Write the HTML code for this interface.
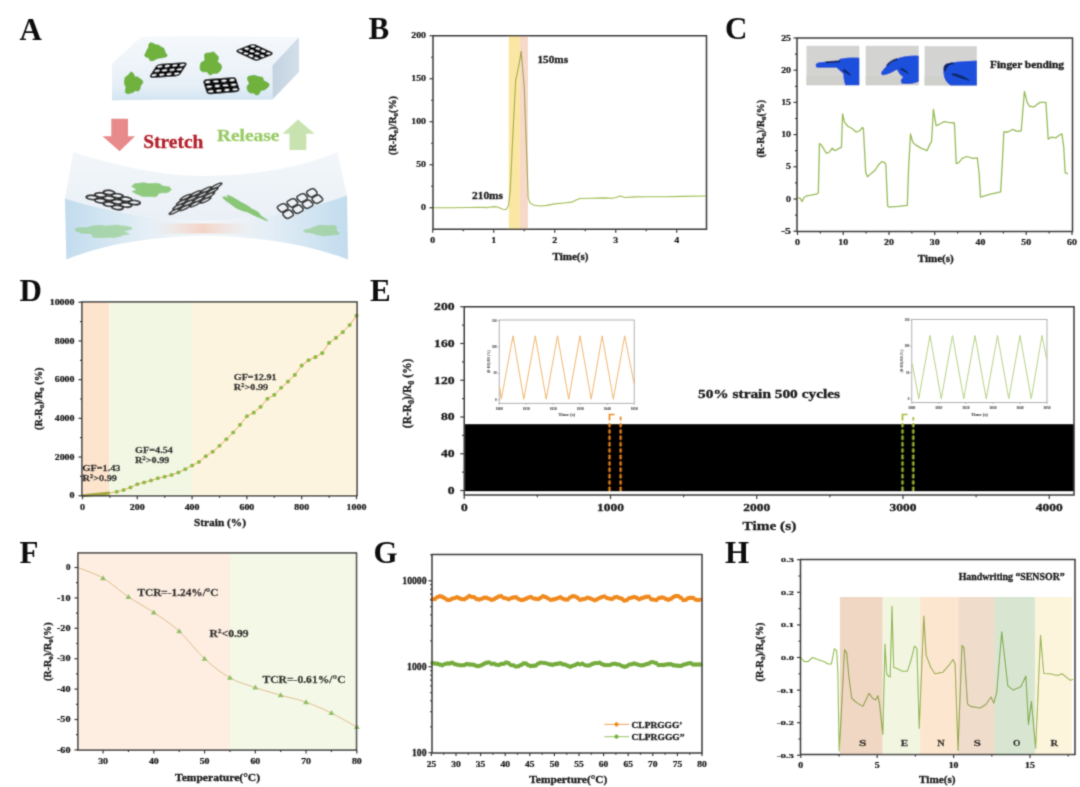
<!DOCTYPE html>
<html><head><meta charset="utf-8"><title>Figure</title>
<style>
html,body{margin:0;padding:0;background:#fff;}
svg{display:block;font-family:'Liberation Serif', serif;}
</style></head><body>
<svg width="1080" height="787" viewBox="0 0 1080 787">
<defs><filter id="soft" x="0" y="0" width="1080" height="787" filterUnits="userSpaceOnUse"><feConvolveMatrix order="3" kernelMatrix="0.06 0.25 0.06 0.25 1 0.25 0.06 0.25 0.06" divisor="2.24" edgeMode="duplicate"/></filter></defs>
<rect width="1080" height="787" fill="#fff"/>
<g filter="url(#soft)">
<defs>
<linearGradient id="afront" x1="0" y1="0" x2="0" y2="1"><stop offset="0" stop-color="#eef4f9"/><stop offset="0.6" stop-color="#e6eff7"/><stop offset="1" stop-color="#d2e4f1"/></linearGradient>
<linearGradient id="atop" x1="0" y1="0" x2="0" y2="1"><stop offset="0" stop-color="#f5f8fb"/><stop offset="1" stop-color="#edf3f8"/></linearGradient>
<linearGradient id="aside" x1="0" y1="0" x2="1" y2="0"><stop offset="0" stop-color="#c3d2e0"/><stop offset="1" stop-color="#d3dfea"/></linearGradient>
<linearGradient id="lfront" x1="0" y1="0" x2="1" y2="0"><stop offset="0" stop-color="#c2dcee"/><stop offset="0.3" stop-color="#e6eff6"/><stop offset="0.5" stop-color="#f3f6f9"/><stop offset="0.7" stop-color="#e6eff6"/><stop offset="1" stop-color="#c2dcee"/></linearGradient>
<linearGradient id="ltop" x1="0" y1="0" x2="0" y2="1"><stop offset="0" stop-color="#f3f6fa"/><stop offset="1" stop-color="#e9f0f6"/></linearGradient>
<radialGradient id="glow" cx="0.5" cy="0.5" r="0.5"><stop offset="0" stop-color="#f2c4b0"/><stop offset="1" stop-color="#f2c4b0" stop-opacity="0"/></radialGradient>
<linearGradient id="glowh" x1="0" y1="0" x2="1" y2="0"><stop offset="0" stop-color="#f4cdbd" stop-opacity="0"/><stop offset="0.5" stop-color="#f4c8b5"/><stop offset="1" stop-color="#f4cdbd" stop-opacity="0"/></linearGradient>
</defs>
<path d="M141,37 C180,35.5 240,36.5 299,37 L272.5,65.5 L112,63.5 Z" fill="url(#atop)"/>
<path d="M112,63.5 L272.5,65.5 L272.5,99.5 C220,100.5 160,99 112,100.5 Z" fill="url(#afront)"/>
<path d="M272.5,65.5 L299,37 L299,72 L272.5,99.5 Z" fill="url(#aside)"/>
<path d="M165.2,52.3 L166.3,53.7 L167.3,55.3 L166.5,56.7 L164.2,57.4 L162.3,57.8 L160.7,58.1 L159.1,58.1 L157.9,58.7 L156.6,58.7 L155.3,59.7 L153.6,60.5 L151.7,60.9 L149.9,60.5 L149.2,58.8 L148.4,57.7 L146.6,57.2 L145.0,56.4 L144.6,55.0 L145.4,53.5 L145.9,52.3 L146.4,51.2 L146.8,50.2 L147.3,49.1 L148.2,48.3 L148.6,47.1 L148.7,45.2 L149.4,43.3 L151.3,42.7 L153.5,43.4 L155.3,44.5 L156.8,44.9 L158.4,44.9 L159.6,45.8 L160.7,46.5 L161.7,47.3 L163.3,47.8 L164.0,48.8 L164.6,50.0 L164.9,51.1Z" fill="#6fb23d" stroke="#6fb23d" stroke-width="0.8" stroke-linejoin="round" opacity="1"/>
<path d="M220.5,64.0 L221.5,65.9 L221.7,68.0 L220.8,69.8 L219.8,71.4 L218.4,72.6 L216.9,73.4 L215.1,73.3 L213.7,73.5 L212.4,73.9 L211.0,75.0 L209.5,74.9 L208.3,73.6 L207.4,72.1 L206.1,71.8 L204.1,71.9 L201.9,71.6 L200.5,70.2 L200.0,68.1 L200.2,66.0 L200.4,64.0 L201.4,62.3 L203.5,61.2 L204.6,60.3 L204.9,58.9 L204.4,56.4 L204.7,54.0 L206.2,53.2 L207.9,52.9 L209.5,53.0 L211.0,52.6 L212.7,52.0 L214.3,52.2 L215.5,53.9 L216.7,54.9 L218.0,56.0 L218.4,57.8 L218.1,59.9 L217.5,61.6 L218.5,62.6Z" fill="#6fb23d" stroke="#6fb23d" stroke-width="0.8" stroke-linejoin="round" opacity="1"/>
<path d="M142.5,83.5 L141.2,85.0 L140.5,86.4 L140.3,87.9 L139.7,89.3 L139.0,90.7 L137.4,91.0 L135.7,90.6 L134.8,91.3 L133.7,91.9 L132.5,92.7 L131.2,92.8 L129.6,93.5 L127.8,93.8 L126.1,93.3 L125.2,91.7 L125.6,89.1 L126.0,87.2 L125.4,86.1 L124.9,84.8 L124.4,83.5 L124.4,82.1 L124.4,80.6 L124.9,79.2 L125.0,77.5 L126.1,76.4 L127.5,75.8 L128.5,74.8 L129.5,73.4 L130.8,71.9 L132.5,72.6 L133.8,74.2 L134.6,76.3 L135.5,77.0 L136.9,76.8 L138.2,77.2 L139.3,78.0 L140.3,79.1 L142.1,80.1 L142.9,81.7Z" fill="#6fb23d" stroke="#6fb23d" stroke-width="0.8" stroke-linejoin="round" opacity="1"/>
<path d="M269.3,84.7 L268.7,86.4 L267.3,87.9 L265.8,88.9 L264.4,89.9 L262.7,90.2 L261.3,90.5 L260.3,91.2 L259.6,93.0 L258.4,94.7 L256.6,95.1 L254.9,94.2 L253.6,93.1 L251.9,93.0 L250.1,92.9 L248.6,91.9 L247.6,90.6 L247.2,89.0 L247.0,87.5 L247.1,86.1 L248.2,84.7 L249.3,83.7 L248.8,82.4 L248.0,80.7 L247.3,78.6 L247.9,76.8 L249.5,75.9 L251.6,75.8 L253.2,75.2 L255.0,75.5 L256.6,75.9 L258.0,76.5 L259.5,76.8 L260.9,77.0 L262.6,77.3 L263.2,78.7 L263.5,80.2 L264.4,81.1 L266.3,81.9 L268.2,83.0Z" fill="#6fb23d" stroke="#6fb23d" stroke-width="0.8" stroke-linejoin="round" opacity="1"/>
<g transform="matrix(7.500 -0.500 2.833 -4.333 149 77.6)">
<rect x="0.05" y="0.05" width="3.9" height="2.9" rx="0.45" ry="0.45" fill="#0d0d0d" stroke="#0d0d0d" stroke-width="1.6" stroke-linejoin="round" vector-effect="non-scaling-stroke"/>
<ellipse cx="0.5" cy="0.5" rx="0.33" ry="0.22" fill="#f2f5f8"/>
<ellipse cx="1.5" cy="0.5" rx="0.33" ry="0.22" fill="#f2f5f8"/>
<ellipse cx="2.5" cy="0.5" rx="0.33" ry="0.22" fill="#f2f5f8"/>
<ellipse cx="3.5" cy="0.5" rx="0.33" ry="0.22" fill="#f2f5f8"/>
<ellipse cx="0.5" cy="1.5" rx="0.33" ry="0.22" fill="#f2f5f8"/>
<ellipse cx="1.5" cy="1.5" rx="0.33" ry="0.22" fill="#f2f5f8"/>
<ellipse cx="2.5" cy="1.5" rx="0.33" ry="0.22" fill="#f2f5f8"/>
<ellipse cx="3.5" cy="1.5" rx="0.33" ry="0.22" fill="#f2f5f8"/>
<ellipse cx="0.5" cy="2.5" rx="0.33" ry="0.22" fill="#f2f5f8"/>
<ellipse cx="1.5" cy="2.5" rx="0.33" ry="0.22" fill="#f2f5f8"/>
<ellipse cx="2.5" cy="2.5" rx="0.33" ry="0.22" fill="#f2f5f8"/>
<ellipse cx="3.5" cy="2.5" rx="0.33" ry="0.22" fill="#f2f5f8"/>
</g>
<g transform="matrix(5.200 2.425 6.067 -2.367 235 51)">
<rect x="0.05" y="0.05" width="3.9" height="2.9" rx="0.45" ry="0.45" fill="#0d0d0d" stroke="#0d0d0d" stroke-width="1.6" stroke-linejoin="round" vector-effect="non-scaling-stroke"/>
<ellipse cx="0.5" cy="0.5" rx="0.33" ry="0.23" fill="#f2f5f8"/>
<ellipse cx="1.5" cy="0.5" rx="0.33" ry="0.23" fill="#f2f5f8"/>
<ellipse cx="2.5" cy="0.5" rx="0.33" ry="0.23" fill="#f2f5f8"/>
<ellipse cx="3.5" cy="0.5" rx="0.33" ry="0.23" fill="#f2f5f8"/>
<ellipse cx="0.5" cy="1.5" rx="0.33" ry="0.23" fill="#f2f5f8"/>
<ellipse cx="1.5" cy="1.5" rx="0.33" ry="0.23" fill="#f2f5f8"/>
<ellipse cx="2.5" cy="1.5" rx="0.33" ry="0.23" fill="#f2f5f8"/>
<ellipse cx="3.5" cy="1.5" rx="0.33" ry="0.23" fill="#f2f5f8"/>
<ellipse cx="0.5" cy="2.5" rx="0.33" ry="0.23" fill="#f2f5f8"/>
<ellipse cx="1.5" cy="2.5" rx="0.33" ry="0.23" fill="#f2f5f8"/>
<ellipse cx="2.5" cy="2.5" rx="0.33" ry="0.23" fill="#f2f5f8"/>
<ellipse cx="3.5" cy="2.5" rx="0.33" ry="0.23" fill="#f2f5f8"/>
</g>
<g transform="matrix(8.125 -0.650 -1.500 -4.667 207.4 94)">
<rect x="0.05" y="0.05" width="3.9" height="2.9" rx="0.45" ry="0.45" fill="#0d0d0d" stroke="#0d0d0d" stroke-width="1.6" stroke-linejoin="round" vector-effect="non-scaling-stroke"/>
<ellipse cx="0.5" cy="0.5" rx="0.32" ry="0.2" fill="#f2f5f8"/>
<ellipse cx="1.5" cy="0.5" rx="0.32" ry="0.2" fill="#f2f5f8"/>
<ellipse cx="2.5" cy="0.5" rx="0.32" ry="0.2" fill="#f2f5f8"/>
<ellipse cx="3.5" cy="0.5" rx="0.32" ry="0.2" fill="#f2f5f8"/>
<ellipse cx="0.5" cy="1.5" rx="0.32" ry="0.2" fill="#f2f5f8"/>
<ellipse cx="1.5" cy="1.5" rx="0.32" ry="0.2" fill="#f2f5f8"/>
<ellipse cx="2.5" cy="1.5" rx="0.32" ry="0.2" fill="#f2f5f8"/>
<ellipse cx="3.5" cy="1.5" rx="0.32" ry="0.2" fill="#f2f5f8"/>
<ellipse cx="0.5" cy="2.5" rx="0.32" ry="0.2" fill="#f2f5f8"/>
<ellipse cx="1.5" cy="2.5" rx="0.32" ry="0.2" fill="#f2f5f8"/>
<ellipse cx="2.5" cy="2.5" rx="0.32" ry="0.2" fill="#f2f5f8"/>
<ellipse cx="3.5" cy="2.5" rx="0.32" ry="0.2" fill="#f2f5f8"/>
</g>
<path d="M111.3,118.8 L128,118.8 L128,136.3 L135,136.3 L119.6,151.3 L102.5,136.3 L111.3,136.3 Z" fill="#e88a8c"/>
<path d="M298,119.5 L314.5,133.8 L306.3,133.8 L306.3,150 L289.5,150 L289.5,133.8 L282.5,133.8 Z" fill="#c9e3b0"/>
<text x="143.3" y="148" font-size="19" text-anchor="start" font-weight="bold" fill="#b3202c" stroke="#b3202c" stroke-width="0.30" textLength="60" lengthAdjust="spacingAndGlyphs">Stretch</text>
<text x="217" y="140.5" font-size="17.5" text-anchor="start" font-weight="bold" fill="#9acb68" stroke="#9acb68" stroke-width="0.30" textLength="62.5" lengthAdjust="spacingAndGlyphs">Release</text>
<path d="M73.3,152 C130,170 170,176 205,176 C250,176 300,168 337.5,152 L347,195.5 C300,212 250,221 205,221 C160,221 110,212 64.9,198.4 Z" fill="url(#ltop)"/>
<path d="M64.9,198.4 C110,212 160,221 205,221 C250,221 300,212 347,195.5 L348,259.4 C300,242 250,236 205,236 C160,236 110,242 66.4,259.4 Z" fill="url(#lfront)"/>
<rect x="155" y="223.5" width="95" height="10" fill="url(#glowh)" opacity="0.75"/>
<path d="M123.0,231.0 L124.6,231.7 L126.3,232.6 L129.2,233.9 L126.0,234.6 L122.5,235.1 L121.1,236.2 L117.6,236.7 L114.4,237.6 L109.6,237.2 L105.5,237.5 L101.1,237.6 L96.7,237.5 L92.9,237.0 L92.3,235.4 L91.8,234.3 L90.7,233.6 L85.8,233.4 L80.1,233.0 L79.7,232.0 L75.6,231.0 L75.8,229.9 L75.3,228.6 L79.5,227.8 L87.4,227.8 L89.2,227.1 L91.1,226.2 L94.6,225.8 L98.1,225.5 L101.8,225.4 L105.5,226.2 L109.0,225.7 L113.0,225.4 L118.0,225.1 L120.8,225.9 L125.5,226.2 L129.2,226.9 L131.8,227.8 L131.9,228.9 L127.5,230.2Z" fill="#92cd88" stroke="#92cd88" stroke-width="0.8" stroke-linejoin="round" opacity="0.65"/>
<path d="M336.5,230.5 L337.3,231.2 L337.6,232.0 L339.7,233.2 L338.9,234.1 L336.8,234.8 L332.9,234.7 L330.9,235.2 L328.4,235.4 L326.1,235.7 L323.5,235.8 L321.2,235.3 L319.1,234.9 L316.5,234.9 L315.1,234.3 L314.4,233.4 L312.1,233.2 L310.1,232.7 L305.9,232.3 L303.9,231.5 L303.6,230.5 L305.7,229.6 L309.5,229.0 L310.9,228.4 L311.8,227.7 L313.3,227.2 L315.2,226.8 L316.9,226.3 L318.3,225.3 L321.0,225.4 L323.5,225.4 L326.0,225.5 L328.3,225.7 L331.9,225.2 L334.4,225.6 L336.0,226.4 L336.8,227.4 L336.5,228.4 L336.5,229.1 L336.1,229.9Z" fill="#92cd88" stroke="#92cd88" stroke-width="0.8" stroke-linejoin="round" opacity="0.65"/>
<path d="M171.5,189.5 L169.9,190.7 L169.1,191.8 L166.9,192.7 L162.3,192.8 L159.9,193.1 L158.1,193.6 L157.9,195.2 L156.2,196.6 L153.2,196.8 L150.0,196.3 L146.9,196.6 L143.8,196.5 L141.1,195.9 L139.3,194.9 L137.3,194.2 L135.2,193.5 L134.3,192.5 L132.1,191.6 L135.3,190.4 L136.1,189.5 L135.5,188.7 L133.2,187.5 L131.7,186.1 L133.1,185.0 L134.6,183.8 L138.0,183.4 L141.0,183.0 L144.1,182.8 L147.4,183.5 L150.0,183.7 L152.5,183.6 L155.5,183.2 L158.2,183.6 L160.4,184.2 L161.6,185.2 L162.9,186.1 L166.2,186.5 L169.7,187.1 L170.3,188.3Z" fill="#86c673" stroke="#86c673" stroke-width="0.8" stroke-linejoin="round" opacity="0.9"/>
<path d="M265.3,218.8 L267.6,220.8 L264.9,220.1 L259.7,217.6 L257.9,217.1 L254.2,215.4 L251.4,214.1 L248.5,212.5 L246.2,211.6 L244.0,211.2 L240.8,210.0 L236.7,208.3 L233.7,206.2 L231.2,204.4 L228.9,202.7 L225.9,200.8 L224.5,199.5 L222.9,198.1 L222.7,197.4 L223.1,197.0 L224.9,197.3 L224.4,196.5 L227.8,198.0 L228.3,197.7 L227.9,196.8 L226.9,195.1 L229.4,195.8 L233.2,197.6 L237.5,200.1 L241.0,202.3 L244.0,203.8 L247.1,205.4 L249.6,207.1 L251.0,208.4 L254.7,210.3 L258.6,212.4 L259.1,213.3 L259.9,214.3 L259.8,214.8 L261.8,216.4Z" fill="#84c470" stroke="#84c470" stroke-width="0.8" stroke-linejoin="round" opacity="0.95"/>
<g transform="matrix(8.500 3.375 8.500 -2.500 83.5 197)" opacity="1">
<ellipse cx="0.5" cy="0.5" rx="0.5" ry="0.47" fill="#eef3f7" stroke="#2e2e2e" stroke-width="1.9" vector-effect="non-scaling-stroke"/>
<ellipse cx="1.5" cy="0.5" rx="0.5" ry="0.47" fill="#eef3f7" stroke="#2e2e2e" stroke-width="1.9" vector-effect="non-scaling-stroke"/>
<ellipse cx="2.5" cy="0.5" rx="0.5" ry="0.47" fill="#eef3f7" stroke="#2e2e2e" stroke-width="1.9" vector-effect="non-scaling-stroke"/>
<ellipse cx="3.5" cy="0.5" rx="0.5" ry="0.47" fill="#eef3f7" stroke="#2e2e2e" stroke-width="1.9" vector-effect="non-scaling-stroke"/>
<ellipse cx="0.5" cy="1.5" rx="0.5" ry="0.47" fill="#eef3f7" stroke="#2e2e2e" stroke-width="1.9" vector-effect="non-scaling-stroke"/>
<ellipse cx="1.5" cy="1.5" rx="0.5" ry="0.47" fill="#eef3f7" stroke="#2e2e2e" stroke-width="1.9" vector-effect="non-scaling-stroke"/>
<ellipse cx="2.5" cy="1.5" rx="0.5" ry="0.47" fill="#eef3f7" stroke="#2e2e2e" stroke-width="1.9" vector-effect="non-scaling-stroke"/>
<ellipse cx="3.5" cy="1.5" rx="0.5" ry="0.47" fill="#eef3f7" stroke="#2e2e2e" stroke-width="1.9" vector-effect="non-scaling-stroke"/>
<ellipse cx="0.5" cy="2.5" rx="0.5" ry="0.47" fill="#eef3f7" stroke="#2e2e2e" stroke-width="1.9" vector-effect="non-scaling-stroke"/>
<ellipse cx="1.5" cy="2.5" rx="0.5" ry="0.47" fill="#eef3f7" stroke="#2e2e2e" stroke-width="1.9" vector-effect="non-scaling-stroke"/>
<ellipse cx="2.5" cy="2.5" rx="0.5" ry="0.47" fill="#eef3f7" stroke="#2e2e2e" stroke-width="1.9" vector-effect="non-scaling-stroke"/>
<ellipse cx="3.5" cy="2.5" rx="0.5" ry="0.47" fill="#eef3f7" stroke="#2e2e2e" stroke-width="1.9" vector-effect="non-scaling-stroke"/>
</g>
<g transform="matrix(10.300 -3.750 3.600 -4.700 167.7 215.6)" opacity="1">
<ellipse cx="0.5" cy="0.5" rx="0.5" ry="0.5" fill="#e9eef3" stroke="#383838" stroke-width="1.6" vector-effect="non-scaling-stroke"/>
<ellipse cx="1.5" cy="0.5" rx="0.5" ry="0.5" fill="#e9eef3" stroke="#383838" stroke-width="1.6" vector-effect="non-scaling-stroke"/>
<ellipse cx="2.5" cy="0.5" rx="0.5" ry="0.5" fill="#e9eef3" stroke="#383838" stroke-width="1.6" vector-effect="non-scaling-stroke"/>
<ellipse cx="3.5" cy="0.5" rx="0.5" ry="0.5" fill="#e9eef3" stroke="#383838" stroke-width="1.6" vector-effect="non-scaling-stroke"/>
<ellipse cx="0.5" cy="1.5" rx="0.5" ry="0.5" fill="#e9eef3" stroke="#383838" stroke-width="1.6" vector-effect="non-scaling-stroke"/>
<ellipse cx="1.5" cy="1.5" rx="0.5" ry="0.5" fill="#e9eef3" stroke="#383838" stroke-width="1.6" vector-effect="non-scaling-stroke"/>
<ellipse cx="2.5" cy="1.5" rx="0.5" ry="0.5" fill="#e9eef3" stroke="#383838" stroke-width="1.6" vector-effect="non-scaling-stroke"/>
<ellipse cx="3.5" cy="1.5" rx="0.5" ry="0.5" fill="#e9eef3" stroke="#383838" stroke-width="1.6" vector-effect="non-scaling-stroke"/>
<ellipse cx="0.5" cy="2.5" rx="0.5" ry="0.5" fill="#e9eef3" stroke="#383838" stroke-width="1.6" vector-effect="non-scaling-stroke"/>
<ellipse cx="1.5" cy="2.5" rx="0.5" ry="0.5" fill="#e9eef3" stroke="#383838" stroke-width="1.6" vector-effect="non-scaling-stroke"/>
<ellipse cx="2.5" cy="2.5" rx="0.5" ry="0.5" fill="#e9eef3" stroke="#383838" stroke-width="1.6" vector-effect="non-scaling-stroke"/>
<ellipse cx="3.5" cy="2.5" rx="0.5" ry="0.5" fill="#e9eef3" stroke="#383838" stroke-width="1.6" vector-effect="non-scaling-stroke"/>
<ellipse cx="0.5" cy="3.5" rx="0.5" ry="0.5" fill="#e9eef3" stroke="#383838" stroke-width="1.6" vector-effect="non-scaling-stroke"/>
<ellipse cx="1.5" cy="3.5" rx="0.5" ry="0.5" fill="#e9eef3" stroke="#383838" stroke-width="1.6" vector-effect="non-scaling-stroke"/>
<ellipse cx="2.5" cy="3.5" rx="0.5" ry="0.5" fill="#e9eef3" stroke="#383838" stroke-width="1.6" vector-effect="non-scaling-stroke"/>
<ellipse cx="3.5" cy="3.5" rx="0.5" ry="0.5" fill="#e9eef3" stroke="#383838" stroke-width="1.6" vector-effect="non-scaling-stroke"/>
</g>
<g transform="matrix(9.750 -5.000 5.500 6.500 275 207)" opacity="1">
<rect x="0.09999999999999998" y="0.06" width="0.8" height="0.88" rx="0.24" ry="0.264" fill="#edf2f6" stroke="#333" stroke-width="1.7" vector-effect="non-scaling-stroke"/>
<rect x="1.1" y="0.06" width="0.8" height="0.88" rx="0.24" ry="0.264" fill="#edf2f6" stroke="#333" stroke-width="1.7" vector-effect="non-scaling-stroke"/>
<rect x="2.1" y="0.06" width="0.8" height="0.88" rx="0.24" ry="0.264" fill="#edf2f6" stroke="#333" stroke-width="1.7" vector-effect="non-scaling-stroke"/>
<rect x="3.1" y="0.06" width="0.8" height="0.88" rx="0.24" ry="0.264" fill="#edf2f6" stroke="#333" stroke-width="1.7" vector-effect="non-scaling-stroke"/>
<rect x="0.09999999999999998" y="1.06" width="0.8" height="0.88" rx="0.24" ry="0.264" fill="#edf2f6" stroke="#333" stroke-width="1.7" vector-effect="non-scaling-stroke"/>
<rect x="1.1" y="1.06" width="0.8" height="0.88" rx="0.24" ry="0.264" fill="#edf2f6" stroke="#333" stroke-width="1.7" vector-effect="non-scaling-stroke"/>
<rect x="2.1" y="1.06" width="0.8" height="0.88" rx="0.24" ry="0.264" fill="#edf2f6" stroke="#333" stroke-width="1.7" vector-effect="non-scaling-stroke"/>
<rect x="3.1" y="1.06" width="0.8" height="0.88" rx="0.24" ry="0.264" fill="#edf2f6" stroke="#333" stroke-width="1.7" vector-effect="non-scaling-stroke"/>
</g>
<text x="19.5" y="39.5" font-size="31" text-anchor="start" font-weight="bold" fill="#111">A</text>
<text x="368.5" y="39.2" font-size="31" text-anchor="start" font-weight="bold" fill="#111">B</text>
<text x="725" y="38.6" font-size="31" text-anchor="start" font-weight="bold" fill="#111">C</text>
<text x="19.5" y="301.2" font-size="31" text-anchor="start" font-weight="bold" fill="#111">D</text>
<text x="370" y="300.5" font-size="31" text-anchor="start" font-weight="bold" fill="#111">E</text>
<text x="19.5" y="562.5" font-size="31" text-anchor="start" font-weight="bold" fill="#111">F</text>
<text x="373.5" y="562.8" font-size="31" text-anchor="start" font-weight="bold" fill="#111">G</text>
<text x="725" y="563.2" font-size="31" text-anchor="start" font-weight="bold" fill="#111">H</text>
<polyline points="432.75,207.75 451.05,207.75 469.35,207.49 478.50,207.23 487.65,207.58 493.75,206.63 497.41,207.06 502.90,209.30 505.95,209.64 508.39,206.03 510.22,190.55 512.66,138.95 515.71,80.47 518.76,65.85 521.20,51.23 524.25,87.35 526.08,138.95 528.22,197.43 529.74,202.59 533.40,205.00 539.50,206.03 545.60,205.60 554.75,203.88 563.90,203.02 571.83,202.16 576.10,200.01 580.37,198.46 591.35,198.29 603.55,197.86 612.70,198.29 615.75,197.43 620.02,196.05 624.90,197.43 634.05,196.91 646.25,196.74 664.55,196.74 682.85,196.40 707.25,196.05" fill="none" stroke="#a3bd55" stroke-width="1.1" stroke-linejoin="round"/>
<rect x="508.75" y="35.75" width="11.25" height="193.50" fill="#fbe7a4" style="mix-blend-mode:multiply"/>
<rect x="520.00" y="35.75" width="8.00" height="193.50" fill="#f7d9c9" style="mix-blend-mode:multiply"/>
<rect x="433" y="35.75" width="273.5" height="193.5" fill="none" stroke="#3a3a3a" stroke-width="1.5"/>
<line x1="429.50" y1="207.75" x2="433.00" y2="207.75" stroke="#3a3a3a" stroke-width="1.2"/>
<line x1="429.50" y1="164.75" x2="433.00" y2="164.75" stroke="#3a3a3a" stroke-width="1.2"/>
<line x1="429.50" y1="121.75" x2="433.00" y2="121.75" stroke="#3a3a3a" stroke-width="1.2"/>
<line x1="429.50" y1="78.75" x2="433.00" y2="78.75" stroke="#3a3a3a" stroke-width="1.2"/>
<line x1="429.50" y1="35.75" x2="433.00" y2="35.75" stroke="#3a3a3a" stroke-width="1.2"/>
<line x1="431.00" y1="186.25" x2="433.00" y2="186.25" stroke="#3a3a3a" stroke-width="1.2"/>
<line x1="431.00" y1="143.25" x2="433.00" y2="143.25" stroke="#3a3a3a" stroke-width="1.2"/>
<line x1="431.00" y1="100.25" x2="433.00" y2="100.25" stroke="#3a3a3a" stroke-width="1.2"/>
<line x1="431.00" y1="57.25" x2="433.00" y2="57.25" stroke="#3a3a3a" stroke-width="1.2"/>
<line x1="432.75" y1="229.25" x2="432.75" y2="232.75" stroke="#3a3a3a" stroke-width="1.2"/>
<line x1="493.75" y1="229.25" x2="493.75" y2="232.75" stroke="#3a3a3a" stroke-width="1.2"/>
<line x1="554.75" y1="229.25" x2="554.75" y2="232.75" stroke="#3a3a3a" stroke-width="1.2"/>
<line x1="615.75" y1="229.25" x2="615.75" y2="232.75" stroke="#3a3a3a" stroke-width="1.2"/>
<line x1="676.75" y1="229.25" x2="676.75" y2="232.75" stroke="#3a3a3a" stroke-width="1.2"/>
<line x1="463.25" y1="229.25" x2="463.25" y2="231.25" stroke="#3a3a3a" stroke-width="1.2"/>
<line x1="524.25" y1="229.25" x2="524.25" y2="231.25" stroke="#3a3a3a" stroke-width="1.2"/>
<line x1="585.25" y1="229.25" x2="585.25" y2="231.25" stroke="#3a3a3a" stroke-width="1.2"/>
<line x1="646.25" y1="229.25" x2="646.25" y2="231.25" stroke="#3a3a3a" stroke-width="1.2"/>
<text x="426" y="210.35" font-size="7.5" text-anchor="end" font-weight="bold" fill="#1a1a1a" stroke="#1a1a1a" stroke-width="0.22" textLength="4.9" lengthAdjust="spacingAndGlyphs">0</text>
<text x="426" y="167.35" font-size="7.5" text-anchor="end" font-weight="bold" fill="#1a1a1a" stroke="#1a1a1a" stroke-width="0.22" textLength="9.8" lengthAdjust="spacingAndGlyphs">50</text>
<text x="426" y="124.35" font-size="7.5" text-anchor="end" font-weight="bold" fill="#1a1a1a" stroke="#1a1a1a" stroke-width="0.22" textLength="14.7" lengthAdjust="spacingAndGlyphs">100</text>
<text x="426" y="81.35" font-size="7.5" text-anchor="end" font-weight="bold" fill="#1a1a1a" stroke="#1a1a1a" stroke-width="0.22" textLength="14.7" lengthAdjust="spacingAndGlyphs">150</text>
<text x="426" y="38.35" font-size="7.5" text-anchor="end" font-weight="bold" fill="#1a1a1a" stroke="#1a1a1a" stroke-width="0.22" textLength="14.7" lengthAdjust="spacingAndGlyphs">200</text>
<text x="432.75" y="243" font-size="7.5" text-anchor="middle" font-weight="bold" fill="#1a1a1a" stroke="#1a1a1a" stroke-width="0.22" textLength="4.9" lengthAdjust="spacingAndGlyphs">0</text>
<text x="493.75" y="243" font-size="7.5" text-anchor="middle" font-weight="bold" fill="#1a1a1a" stroke="#1a1a1a" stroke-width="0.22" textLength="4.9" lengthAdjust="spacingAndGlyphs">1</text>
<text x="554.75" y="243" font-size="7.5" text-anchor="middle" font-weight="bold" fill="#1a1a1a" stroke="#1a1a1a" stroke-width="0.22" textLength="4.9" lengthAdjust="spacingAndGlyphs">2</text>
<text x="615.75" y="243" font-size="7.5" text-anchor="middle" font-weight="bold" fill="#1a1a1a" stroke="#1a1a1a" stroke-width="0.22" textLength="4.9" lengthAdjust="spacingAndGlyphs">3</text>
<text x="676.75" y="243" font-size="7.5" text-anchor="middle" font-weight="bold" fill="#1a1a1a" stroke="#1a1a1a" stroke-width="0.22" textLength="4.9" lengthAdjust="spacingAndGlyphs">4</text>
<text x="570.5" y="260" font-size="11" text-anchor="middle" font-weight="bold" fill="#1a1a1a" stroke="#1a1a1a" stroke-width="0.30" textLength="36" lengthAdjust="spacingAndGlyphs">Time(s)</text>
<text x="395.5" y="125.5" font-size="10" text-anchor="middle" font-weight="bold" fill="#1a1a1a" stroke="#1a1a1a" stroke-width="0.3" textLength="59" lengthAdjust="spacingAndGlyphs" transform="rotate(-90 395.5 125.5)">(R-R<tspan font-size="7.0" dy="2.2">0</tspan><tspan dy="-2.2">)/R</tspan><tspan font-size="7.0" dy="2.2">0</tspan><tspan dy="-2.2">(%)</tspan></text>
<text x="537.5" y="62.5" font-size="11" text-anchor="start" font-weight="bold" fill="#1a1a1a" stroke="#1a1a1a" stroke-width="0.30" textLength="30.5" lengthAdjust="spacingAndGlyphs">150ms</text>
<text x="472" y="198.75" font-size="11" text-anchor="start" font-weight="bold" fill="#1a1a1a" stroke="#1a1a1a" stroke-width="0.30" textLength="31" lengthAdjust="spacingAndGlyphs">210ms</text>
<g transform="translate(806.5 45.8) scale(1.0057 0.9975)">
<rect x="0" y="0" width="52.5" height="39.5" fill="#d3d3d1"/>
<rect x="0" y="30" width="52.5" height="9.5" fill="#cfcfcc"/>
<path d="M33,13 C40,11.5 48,11.5 52.5,12 L52.5,39.5 L38.5,39.5 C37,35 36.5,31 36.5,28 C34,26 32,24 30,22 L11,22 C9,21.8 8.5,19 10,17.5 C12,16 22,16 32,15 Z" fill="#1d4fdc"/>
<path d="M19,15.6 L33,14.6 L33.5,16.6 L19.5,17.4 Z" fill="#0f1f55" opacity="0.85"/>
<path d="M37,23 C40,24.5 43,27 44.5,30 C41.5,29 38.5,27.5 36,25.5 Z" fill="#0f1f55" opacity="0.8"/>
</g>
<g transform="translate(865.7 45.8) scale(1.0095 0.9975)">
<rect x="0" y="0" width="52.5" height="39.5" fill="#d3d3d1"/>
<rect x="0" y="30" width="52.5" height="9.5" fill="#cfcfcc"/>
<path d="M30,13 C38,9.5 47,9.5 52.5,10 L52.5,36 C48,38 42,39 36,38 C34,36 34.5,33 37,31.5 C34,29 32,27 31,24 C27,26.5 22,29 18,29.5 C15.5,29.8 14.5,27.5 16,25.5 C19,21 24,17 30,13 Z" fill="#1d4fdc"/>
<path d="M20,19.5 C23,15.5 27,13 31,12.5 L31.5,14.5 C28,15 24.5,17 21.5,20.5 Z" fill="#0f1f55" opacity="0.85"/>
<path d="M35,22 C38.5,23 41.5,25.5 43,28.5 C40,27.5 37,25.5 34,23.5 Z" fill="#0f1f55" opacity="0.8"/>
</g>
<g transform="translate(924.6 46.2) scale(0.9943 0.9924)">
<rect x="0" y="0" width="52.5" height="39.5" fill="#d3d3d1"/>
<rect x="0" y="30" width="52.5" height="9.5" fill="#cfcfcc"/>
<path d="M21,18 C27,15.5 40,15 52.5,14.5 L52.5,39.5 L26,39.5 C22,37 19.5,33 19,28 C18.5,24 19,20.5 21,18 Z" fill="#1d4fdc"/>
<path d="M19,21 C20,18 24,16.5 29,16.5 L29,18.5 C25,18.5 22.5,20 21.5,25 L19.5,25.5 Z" fill="#0f1f55" opacity="0.9"/>
<path d="M28,27 C35,28 42,31 46,35 C40,34 33,31.5 27,29 Z" fill="#0f1f55" opacity="0.8"/>
</g>
<text x="990" y="68.3" font-size="10" text-anchor="start" font-weight="bold" fill="#1a1a1a" stroke="#1a1a1a" stroke-width="0.30" textLength="74" lengthAdjust="spacingAndGlyphs">Finger bending</text>
<polyline points="797.50,197.71 800.25,198.36 802.08,201.58 803.90,197.71 806.65,195.78 811.23,195.14 817.17,193.85 818.32,192.56 819.46,143.62 821.75,145.55 826.32,153.28 829.52,151.99 832.27,148.12 835.01,150.70 839.59,148.12 841.42,147.48 842.56,113.99 844.62,122.36 847.83,126.23 852.40,128.80 856.06,132.02 859.72,130.74 862.47,127.52 863.38,128.16 865.67,171.95 867.50,176.78 870.70,173.88 875.27,170.02 878.02,165.51 881.68,161.65 884.42,162.29 885.80,164.22 887.63,206.08 889.00,207.05 898.15,206.41 907.30,205.44 908.67,166.80 910.50,133.96 912.79,142.33 915.53,144.90 921.02,148.12 926.97,150.70 930.17,143.62 931.55,141.68 933.38,109.48 936.12,125.58 939.33,124.30 943.90,121.72 948.48,122.36 954.42,123.01 956.25,163.58 959.00,162.29 962.20,158.43 966.77,156.50 972.72,158.43 977.30,157.78 979.13,173.24 980.50,197.07 989.65,194.49 1000.63,191.92 1002.46,160.36 1003.83,132.02 1007.95,132.02 1012.52,129.45 1017.10,131.38 1021.22,130.74 1024.42,91.45 1027.16,102.40 1029.45,106.26 1034.03,106.91 1036.32,104.98 1039.97,102.40 1045.92,102.40 1048.21,139.11 1051.41,137.18 1055.99,137.82 1059.19,135.24 1061.93,133.96 1063.77,147.48 1065.14,172.60 1067.88,173.88" fill="none" stroke="#98bb5a" stroke-width="1.3" stroke-linejoin="round"/>
<rect x="797" y="38" width="275.5" height="193.5" fill="none" stroke="#3a3a3a" stroke-width="1.5"/>
<line x1="793.50" y1="231.20" x2="797.00" y2="231.20" stroke="#3a3a3a" stroke-width="1.2"/>
<line x1="793.50" y1="199.00" x2="797.00" y2="199.00" stroke="#3a3a3a" stroke-width="1.2"/>
<line x1="793.50" y1="166.80" x2="797.00" y2="166.80" stroke="#3a3a3a" stroke-width="1.2"/>
<line x1="793.50" y1="134.60" x2="797.00" y2="134.60" stroke="#3a3a3a" stroke-width="1.2"/>
<line x1="793.50" y1="102.40" x2="797.00" y2="102.40" stroke="#3a3a3a" stroke-width="1.2"/>
<line x1="793.50" y1="70.20" x2="797.00" y2="70.20" stroke="#3a3a3a" stroke-width="1.2"/>
<line x1="793.50" y1="38.00" x2="797.00" y2="38.00" stroke="#3a3a3a" stroke-width="1.2"/>
<line x1="795.00" y1="215.10" x2="797.00" y2="215.10" stroke="#3a3a3a" stroke-width="1.2"/>
<line x1="795.00" y1="182.90" x2="797.00" y2="182.90" stroke="#3a3a3a" stroke-width="1.2"/>
<line x1="795.00" y1="150.70" x2="797.00" y2="150.70" stroke="#3a3a3a" stroke-width="1.2"/>
<line x1="795.00" y1="118.50" x2="797.00" y2="118.50" stroke="#3a3a3a" stroke-width="1.2"/>
<line x1="795.00" y1="86.30" x2="797.00" y2="86.30" stroke="#3a3a3a" stroke-width="1.2"/>
<line x1="795.00" y1="54.10" x2="797.00" y2="54.10" stroke="#3a3a3a" stroke-width="1.2"/>
<line x1="797.50" y1="231.50" x2="797.50" y2="235.00" stroke="#3a3a3a" stroke-width="1.2"/>
<line x1="843.25" y1="231.50" x2="843.25" y2="235.00" stroke="#3a3a3a" stroke-width="1.2"/>
<line x1="889.00" y1="231.50" x2="889.00" y2="235.00" stroke="#3a3a3a" stroke-width="1.2"/>
<line x1="934.75" y1="231.50" x2="934.75" y2="235.00" stroke="#3a3a3a" stroke-width="1.2"/>
<line x1="980.50" y1="231.50" x2="980.50" y2="235.00" stroke="#3a3a3a" stroke-width="1.2"/>
<line x1="1026.25" y1="231.50" x2="1026.25" y2="235.00" stroke="#3a3a3a" stroke-width="1.2"/>
<line x1="1072.00" y1="231.50" x2="1072.00" y2="235.00" stroke="#3a3a3a" stroke-width="1.2"/>
<line x1="820.38" y1="231.50" x2="820.38" y2="233.50" stroke="#3a3a3a" stroke-width="1.2"/>
<line x1="866.12" y1="231.50" x2="866.12" y2="233.50" stroke="#3a3a3a" stroke-width="1.2"/>
<line x1="911.88" y1="231.50" x2="911.88" y2="233.50" stroke="#3a3a3a" stroke-width="1.2"/>
<line x1="957.62" y1="231.50" x2="957.62" y2="233.50" stroke="#3a3a3a" stroke-width="1.2"/>
<line x1="1003.38" y1="231.50" x2="1003.38" y2="233.50" stroke="#3a3a3a" stroke-width="1.2"/>
<line x1="1049.12" y1="231.50" x2="1049.12" y2="233.50" stroke="#3a3a3a" stroke-width="1.2"/>
<text x="791" y="233.79999999999998" font-size="7.5" text-anchor="end" font-weight="bold" fill="#1a1a1a" stroke="#1a1a1a" stroke-width="0.22" textLength="9.8" lengthAdjust="spacingAndGlyphs">-5</text>
<text x="791" y="201.6" font-size="7.5" text-anchor="end" font-weight="bold" fill="#1a1a1a" stroke="#1a1a1a" stroke-width="0.22" textLength="4.9" lengthAdjust="spacingAndGlyphs">0</text>
<text x="791" y="169.4" font-size="7.5" text-anchor="end" font-weight="bold" fill="#1a1a1a" stroke="#1a1a1a" stroke-width="0.22" textLength="4.9" lengthAdjust="spacingAndGlyphs">5</text>
<text x="791" y="137.2" font-size="7.5" text-anchor="end" font-weight="bold" fill="#1a1a1a" stroke="#1a1a1a" stroke-width="0.22" textLength="9.8" lengthAdjust="spacingAndGlyphs">10</text>
<text x="791" y="104.99999999999999" font-size="7.5" text-anchor="end" font-weight="bold" fill="#1a1a1a" stroke="#1a1a1a" stroke-width="0.22" textLength="9.8" lengthAdjust="spacingAndGlyphs">15</text>
<text x="791" y="72.79999999999998" font-size="7.5" text-anchor="end" font-weight="bold" fill="#1a1a1a" stroke="#1a1a1a" stroke-width="0.22" textLength="9.8" lengthAdjust="spacingAndGlyphs">20</text>
<text x="791" y="40.6" font-size="7.5" text-anchor="end" font-weight="bold" fill="#1a1a1a" stroke="#1a1a1a" stroke-width="0.22" textLength="9.8" lengthAdjust="spacingAndGlyphs">25</text>
<text x="797.5" y="245" font-size="7.5" text-anchor="middle" font-weight="bold" fill="#1a1a1a" stroke="#1a1a1a" stroke-width="0.22" textLength="4.9" lengthAdjust="spacingAndGlyphs">0</text>
<text x="843.25" y="245" font-size="7.5" text-anchor="middle" font-weight="bold" fill="#1a1a1a" stroke="#1a1a1a" stroke-width="0.22" textLength="9.8" lengthAdjust="spacingAndGlyphs">10</text>
<text x="889.0" y="245" font-size="7.5" text-anchor="middle" font-weight="bold" fill="#1a1a1a" stroke="#1a1a1a" stroke-width="0.22" textLength="9.8" lengthAdjust="spacingAndGlyphs">20</text>
<text x="934.75" y="245" font-size="7.5" text-anchor="middle" font-weight="bold" fill="#1a1a1a" stroke="#1a1a1a" stroke-width="0.22" textLength="9.8" lengthAdjust="spacingAndGlyphs">30</text>
<text x="980.5" y="245" font-size="7.5" text-anchor="middle" font-weight="bold" fill="#1a1a1a" stroke="#1a1a1a" stroke-width="0.22" textLength="9.8" lengthAdjust="spacingAndGlyphs">40</text>
<text x="1026.25" y="245" font-size="7.5" text-anchor="middle" font-weight="bold" fill="#1a1a1a" stroke="#1a1a1a" stroke-width="0.22" textLength="9.8" lengthAdjust="spacingAndGlyphs">50</text>
<text x="1072.0" y="245" font-size="7.5" text-anchor="middle" font-weight="bold" fill="#1a1a1a" stroke="#1a1a1a" stroke-width="0.22" textLength="9.8" lengthAdjust="spacingAndGlyphs">60</text>
<text x="935.75" y="262" font-size="11" text-anchor="middle" font-weight="bold" fill="#1a1a1a" stroke="#1a1a1a" stroke-width="0.30" textLength="36" lengthAdjust="spacingAndGlyphs">Time(s)</text>
<text x="763.5" y="128.75" font-size="10" text-anchor="middle" font-weight="bold" fill="#1a1a1a" stroke="#1a1a1a" stroke-width="0.3" textLength="57.5" lengthAdjust="spacingAndGlyphs" transform="rotate(-90 763.5 128.75)">(R-R<tspan font-size="7.0" dy="2.2">0</tspan><tspan dy="-2.2">)/R</tspan><tspan font-size="7.0" dy="2.2">0</tspan><tspan dy="-2.2">(%)</tspan></text>
<rect x="82.00" y="302.00" width="27.30" height="193.75" fill="#fde4cd"/>
<rect x="109.30" y="302.00" width="82.70" height="193.75" fill="#f2f7e3"/>
<rect x="192.00" y="302.00" width="165.00" height="193.75" fill="#fdf4df"/>
<polyline points="82.50,495.75 109.90,492.98 116.75,491.74 123.60,490.00 130.45,487.51 137.30,484.26 144.15,482.50 151.00,480.50 157.85,478.26 164.70,476.75 171.55,475.01 178.40,472.51 185.25,469.24 192.10,465.51 198.95,462.00 205.80,456.26 212.65,451.75 219.50,445.75 226.35,439.25 233.20,432.49 240.05,424.83 246.90,416.26 253.75,412.64 260.60,406.86 267.45,398.81 274.30,394.96 281.15,387.76 288.00,381.57 294.85,374.95 301.70,365.54 308.55,360.24 315.40,357.15 322.25,353.14 329.10,342.94 335.95,337.93 342.80,332.13 349.65,325.12 356.50,315.72" fill="none" stroke="#f2a64e" stroke-width="1.0" stroke-linejoin="round"/>
<line x1="82.50" y1="495.75" x2="109.90" y2="492.98" stroke="#a2a838" stroke-width="3"/>
<circle cx="116.75" cy="491.74" r="2.1" fill="#8dbb3e"/>
<circle cx="123.60" cy="490.00" r="2.1" fill="#8dbb3e"/>
<circle cx="130.45" cy="487.51" r="2.1" fill="#8dbb3e"/>
<circle cx="137.30" cy="484.26" r="2.1" fill="#8dbb3e"/>
<circle cx="144.15" cy="482.50" r="2.1" fill="#8dbb3e"/>
<circle cx="151.00" cy="480.50" r="2.1" fill="#8dbb3e"/>
<circle cx="157.85" cy="478.26" r="2.1" fill="#8dbb3e"/>
<circle cx="164.70" cy="476.75" r="2.1" fill="#8dbb3e"/>
<circle cx="171.55" cy="475.01" r="2.1" fill="#8dbb3e"/>
<circle cx="178.40" cy="472.51" r="2.1" fill="#8dbb3e"/>
<circle cx="185.25" cy="469.24" r="2.1" fill="#8dbb3e"/>
<circle cx="192.10" cy="465.51" r="2.1" fill="#8dbb3e"/>
<circle cx="198.95" cy="462.00" r="2.1" fill="#8dbb3e"/>
<circle cx="205.80" cy="456.26" r="2.1" fill="#8dbb3e"/>
<circle cx="212.65" cy="451.75" r="2.1" fill="#8dbb3e"/>
<circle cx="219.50" cy="445.75" r="2.1" fill="#8dbb3e"/>
<circle cx="226.35" cy="439.25" r="2.1" fill="#8dbb3e"/>
<circle cx="233.20" cy="432.49" r="2.1" fill="#8dbb3e"/>
<circle cx="240.05" cy="424.83" r="2.1" fill="#8dbb3e"/>
<circle cx="246.90" cy="416.26" r="2.1" fill="#8dbb3e"/>
<circle cx="253.75" cy="412.64" r="2.1" fill="#8dbb3e"/>
<circle cx="260.60" cy="406.86" r="2.1" fill="#8dbb3e"/>
<circle cx="267.45" cy="398.81" r="2.1" fill="#8dbb3e"/>
<circle cx="274.30" cy="394.96" r="2.1" fill="#8dbb3e"/>
<circle cx="281.15" cy="387.76" r="2.1" fill="#8dbb3e"/>
<circle cx="288.00" cy="381.57" r="2.1" fill="#8dbb3e"/>
<circle cx="294.85" cy="374.95" r="2.1" fill="#8dbb3e"/>
<circle cx="301.70" cy="365.54" r="2.1" fill="#8dbb3e"/>
<circle cx="308.55" cy="360.24" r="2.1" fill="#8dbb3e"/>
<circle cx="315.40" cy="357.15" r="2.1" fill="#8dbb3e"/>
<circle cx="322.25" cy="353.14" r="2.1" fill="#8dbb3e"/>
<circle cx="329.10" cy="342.94" r="2.1" fill="#8dbb3e"/>
<circle cx="335.95" cy="337.93" r="2.1" fill="#8dbb3e"/>
<circle cx="342.80" cy="332.13" r="2.1" fill="#8dbb3e"/>
<circle cx="349.65" cy="325.12" r="2.1" fill="#8dbb3e"/>
<circle cx="356.50" cy="315.72" r="2.1" fill="#8dbb3e"/>
<rect x="82" y="302" width="275" height="193.75" fill="none" stroke="#3a3a3a" stroke-width="1.5"/>
<line x1="78.50" y1="495.75" x2="82.00" y2="495.75" stroke="#3a3a3a" stroke-width="1.2"/>
<line x1="78.50" y1="457.05" x2="82.00" y2="457.05" stroke="#3a3a3a" stroke-width="1.2"/>
<line x1="78.50" y1="418.35" x2="82.00" y2="418.35" stroke="#3a3a3a" stroke-width="1.2"/>
<line x1="78.50" y1="379.65" x2="82.00" y2="379.65" stroke="#3a3a3a" stroke-width="1.2"/>
<line x1="78.50" y1="340.95" x2="82.00" y2="340.95" stroke="#3a3a3a" stroke-width="1.2"/>
<line x1="78.50" y1="302.25" x2="82.00" y2="302.25" stroke="#3a3a3a" stroke-width="1.2"/>
<line x1="80.00" y1="476.40" x2="82.00" y2="476.40" stroke="#3a3a3a" stroke-width="1.2"/>
<line x1="80.00" y1="437.70" x2="82.00" y2="437.70" stroke="#3a3a3a" stroke-width="1.2"/>
<line x1="80.00" y1="399.00" x2="82.00" y2="399.00" stroke="#3a3a3a" stroke-width="1.2"/>
<line x1="80.00" y1="360.30" x2="82.00" y2="360.30" stroke="#3a3a3a" stroke-width="1.2"/>
<line x1="80.00" y1="321.60" x2="82.00" y2="321.60" stroke="#3a3a3a" stroke-width="1.2"/>
<line x1="82.50" y1="495.75" x2="82.50" y2="499.25" stroke="#3a3a3a" stroke-width="1.2"/>
<line x1="137.30" y1="495.75" x2="137.30" y2="499.25" stroke="#3a3a3a" stroke-width="1.2"/>
<line x1="192.10" y1="495.75" x2="192.10" y2="499.25" stroke="#3a3a3a" stroke-width="1.2"/>
<line x1="246.90" y1="495.75" x2="246.90" y2="499.25" stroke="#3a3a3a" stroke-width="1.2"/>
<line x1="301.70" y1="495.75" x2="301.70" y2="499.25" stroke="#3a3a3a" stroke-width="1.2"/>
<line x1="356.50" y1="495.75" x2="356.50" y2="499.25" stroke="#3a3a3a" stroke-width="1.2"/>
<line x1="109.90" y1="495.75" x2="109.90" y2="497.75" stroke="#3a3a3a" stroke-width="1.2"/>
<line x1="164.70" y1="495.75" x2="164.70" y2="497.75" stroke="#3a3a3a" stroke-width="1.2"/>
<line x1="219.50" y1="495.75" x2="219.50" y2="497.75" stroke="#3a3a3a" stroke-width="1.2"/>
<line x1="274.30" y1="495.75" x2="274.30" y2="497.75" stroke="#3a3a3a" stroke-width="1.2"/>
<line x1="329.10" y1="495.75" x2="329.10" y2="497.75" stroke="#3a3a3a" stroke-width="1.2"/>
<text x="74.5" y="498.35" font-size="7.5" text-anchor="end" font-weight="bold" fill="#1a1a1a" stroke="#1a1a1a" stroke-width="0.22" textLength="5.0" lengthAdjust="spacingAndGlyphs">0</text>
<text x="74.5" y="459.65000000000003" font-size="7.5" text-anchor="end" font-weight="bold" fill="#1a1a1a" stroke="#1a1a1a" stroke-width="0.22" textLength="19.8" lengthAdjust="spacingAndGlyphs">2000</text>
<text x="74.5" y="420.95000000000005" font-size="7.5" text-anchor="end" font-weight="bold" fill="#1a1a1a" stroke="#1a1a1a" stroke-width="0.22" textLength="19.8" lengthAdjust="spacingAndGlyphs">4000</text>
<text x="74.5" y="382.25" font-size="7.5" text-anchor="end" font-weight="bold" fill="#1a1a1a" stroke="#1a1a1a" stroke-width="0.22" textLength="19.8" lengthAdjust="spacingAndGlyphs">6000</text>
<text x="74.5" y="343.55000000000007" font-size="7.5" text-anchor="end" font-weight="bold" fill="#1a1a1a" stroke="#1a1a1a" stroke-width="0.22" textLength="19.8" lengthAdjust="spacingAndGlyphs">8000</text>
<text x="74.5" y="304.85" font-size="7.5" text-anchor="end" font-weight="bold" fill="#1a1a1a" stroke="#1a1a1a" stroke-width="0.22" textLength="24.8" lengthAdjust="spacingAndGlyphs">10000</text>
<text x="82.5" y="510" font-size="7.5" text-anchor="middle" font-weight="bold" fill="#1a1a1a" stroke="#1a1a1a" stroke-width="0.22" textLength="5.0" lengthAdjust="spacingAndGlyphs">0</text>
<text x="137.3" y="510" font-size="7.5" text-anchor="middle" font-weight="bold" fill="#1a1a1a" stroke="#1a1a1a" stroke-width="0.22" textLength="14.9" lengthAdjust="spacingAndGlyphs">200</text>
<text x="192.10000000000002" y="510" font-size="7.5" text-anchor="middle" font-weight="bold" fill="#1a1a1a" stroke="#1a1a1a" stroke-width="0.22" textLength="14.9" lengthAdjust="spacingAndGlyphs">400</text>
<text x="246.9" y="510" font-size="7.5" text-anchor="middle" font-weight="bold" fill="#1a1a1a" stroke="#1a1a1a" stroke-width="0.22" textLength="14.9" lengthAdjust="spacingAndGlyphs">600</text>
<text x="301.70000000000005" y="510" font-size="7.5" text-anchor="middle" font-weight="bold" fill="#1a1a1a" stroke="#1a1a1a" stroke-width="0.22" textLength="14.9" lengthAdjust="spacingAndGlyphs">800</text>
<text x="356.5" y="510" font-size="7.5" text-anchor="middle" font-weight="bold" fill="#1a1a1a" stroke="#1a1a1a" stroke-width="0.22" textLength="19.8" lengthAdjust="spacingAndGlyphs">1000</text>
<text x="220" y="525.75" font-size="11" text-anchor="middle" font-weight="bold" fill="#1a1a1a" stroke="#1a1a1a" stroke-width="0.30" textLength="52" lengthAdjust="spacingAndGlyphs">Strain (%)</text>
<text x="42" y="398.75" font-size="10" text-anchor="middle" font-weight="bold" fill="#1a1a1a" stroke="#1a1a1a" stroke-width="0.3" textLength="62.5" lengthAdjust="spacingAndGlyphs" transform="rotate(-90 42 398.75)">(R-R<tspan font-size="7.0" dy="2.2">0</tspan><tspan dy="-2.2">)/R</tspan><tspan font-size="7.0" dy="2.2">0</tspan><tspan dy="-2.2"> (%)</tspan></text>
<text x="82.5" y="470.75" font-size="9" text-anchor="start" font-weight="bold" fill="#1a1a1a" stroke="#1a1a1a" stroke-width="0.27" textLength="38" lengthAdjust="spacingAndGlyphs">GF=1.43</text>
<text x="82.5" y="481.25" font-size="9" font-weight="bold" fill="#1a1a1a" stroke="#1a1a1a" stroke-width="0.27" textLength="34.5" lengthAdjust="spacingAndGlyphs">R<tspan font-size="6" dy="-3.5">2</tspan><tspan dy="3.5">&gt;0.99</tspan></text>
<text x="135" y="452.5" font-size="9" text-anchor="start" font-weight="bold" fill="#1a1a1a" stroke="#1a1a1a" stroke-width="0.27" textLength="38" lengthAdjust="spacingAndGlyphs">GF=4.54</text>
<text x="135" y="463.0" font-size="9" font-weight="bold" fill="#1a1a1a" stroke="#1a1a1a" stroke-width="0.27" textLength="34.5" lengthAdjust="spacingAndGlyphs">R<tspan font-size="6" dy="-3.5">2</tspan><tspan dy="3.5">&gt;0.99</tspan></text>
<text x="233.7" y="379.8" font-size="9" text-anchor="start" font-weight="bold" fill="#1a1a1a" stroke="#1a1a1a" stroke-width="0.27" textLength="43" lengthAdjust="spacingAndGlyphs">GF=12.91</text>
<text x="233.7" y="390.3" font-size="9" font-weight="bold" fill="#1a1a1a" stroke="#1a1a1a" stroke-width="0.27" textLength="34.5" lengthAdjust="spacingAndGlyphs">R<tspan font-size="6" dy="-3.5">2</tspan><tspan dy="3.5">&gt;0.99</tspan></text>
<rect x="464.25" y="424.20" width="609.75" height="67.00" fill="#000"/>
<rect x="499.2" y="320" width="135.00000000000006" height="83.30000000000001" fill="#fff" stroke="#9a9a9a" stroke-width="0.8"/>
<polyline points="499.60,386.70 501.30,399.20 513.00,335.80 523.80,399.20 535.30,335.80 546.20,399.20 557.50,335.80 568.70,399.20 580.00,335.80 591.20,399.20 602.20,335.80 613.30,399.20 624.70,335.80 634.00,383.30" fill="none" stroke="#f1b45a" stroke-width="1.0" stroke-linejoin="round"/>
<line x1="497.70" y1="320.50" x2="499.20" y2="320.50" stroke="#888" stroke-width="0.6"/>
<line x1="497.70" y1="346.93" x2="499.20" y2="346.93" stroke="#888" stroke-width="0.6"/>
<line x1="497.70" y1="373.37" x2="499.20" y2="373.37" stroke="#888" stroke-width="0.6"/>
<line x1="497.70" y1="399.80" x2="499.20" y2="399.80" stroke="#888" stroke-width="0.6"/>
<line x1="499.20" y1="403.30" x2="499.20" y2="404.80" stroke="#888" stroke-width="0.6"/>
<line x1="526.20" y1="403.30" x2="526.20" y2="404.80" stroke="#888" stroke-width="0.6"/>
<line x1="553.20" y1="403.30" x2="553.20" y2="404.80" stroke="#888" stroke-width="0.6"/>
<line x1="580.20" y1="403.30" x2="580.20" y2="404.80" stroke="#888" stroke-width="0.6"/>
<line x1="607.20" y1="403.30" x2="607.20" y2="404.80" stroke="#888" stroke-width="0.6"/>
<line x1="634.20" y1="403.30" x2="634.20" y2="404.80" stroke="#888" stroke-width="0.6"/>
<rect x="911.8" y="319.5" width="135.20000000000005" height="83.0" fill="#fff" stroke="#9a9a9a" stroke-width="0.8"/>
<polyline points="912.30,363.75 918.75,398.80 930.00,335.50 941.25,398.80 952.50,335.50 963.75,398.80 975.00,335.50 986.25,398.80 997.50,335.50 1008.75,398.80 1020.00,335.50 1031.25,398.80 1042.00,335.50 1046.60,358.75" fill="none" stroke="#b5d07a" stroke-width="1.0" stroke-linejoin="round"/>
<line x1="910.30" y1="320.00" x2="911.80" y2="320.00" stroke="#888" stroke-width="0.6"/>
<line x1="910.30" y1="346.33" x2="911.80" y2="346.33" stroke="#888" stroke-width="0.6"/>
<line x1="910.30" y1="372.67" x2="911.80" y2="372.67" stroke="#888" stroke-width="0.6"/>
<line x1="910.30" y1="399.00" x2="911.80" y2="399.00" stroke="#888" stroke-width="0.6"/>
<line x1="911.80" y1="402.50" x2="911.80" y2="404.00" stroke="#888" stroke-width="0.6"/>
<line x1="938.84" y1="402.50" x2="938.84" y2="404.00" stroke="#888" stroke-width="0.6"/>
<line x1="965.88" y1="402.50" x2="965.88" y2="404.00" stroke="#888" stroke-width="0.6"/>
<line x1="992.92" y1="402.50" x2="992.92" y2="404.00" stroke="#888" stroke-width="0.6"/>
<line x1="1019.96" y1="402.50" x2="1019.96" y2="404.00" stroke="#888" stroke-width="0.6"/>
<line x1="1047.00" y1="402.50" x2="1047.00" y2="404.00" stroke="#888" stroke-width="0.6"/>
<text x="499.2" y="409.8" font-size="3.5" text-anchor="middle" font-weight="bold" fill="#555" stroke="#555" stroke-width="0.10" textLength="7" lengthAdjust="spacingAndGlyphs">1000</text>
<text x="526.2" y="409.8" font-size="3.5" text-anchor="middle" font-weight="bold" fill="#555" stroke="#555" stroke-width="0.10" textLength="7" lengthAdjust="spacingAndGlyphs">1010</text>
<text x="553.2" y="409.8" font-size="3.5" text-anchor="middle" font-weight="bold" fill="#555" stroke="#555" stroke-width="0.10" textLength="7" lengthAdjust="spacingAndGlyphs">1020</text>
<text x="580.2" y="409.8" font-size="3.5" text-anchor="middle" font-weight="bold" fill="#555" stroke="#555" stroke-width="0.10" textLength="7" lengthAdjust="spacingAndGlyphs">1030</text>
<text x="607.2" y="409.8" font-size="3.5" text-anchor="middle" font-weight="bold" fill="#555" stroke="#555" stroke-width="0.10" textLength="7" lengthAdjust="spacingAndGlyphs">1040</text>
<text x="634.2" y="409.8" font-size="3.5" text-anchor="middle" font-weight="bold" fill="#555" stroke="#555" stroke-width="0.10" textLength="7" lengthAdjust="spacingAndGlyphs">1050</text>
<text x="496.7" y="321.5" font-size="3.2" text-anchor="end" font-weight="bold" fill="#555" stroke="#555" stroke-width="0.10">150</text>
<text x="496.7" y="347.93333333333334" font-size="3.2" text-anchor="end" font-weight="bold" fill="#555" stroke="#555" stroke-width="0.10">100</text>
<text x="496.7" y="374.3666666666667" font-size="3.2" text-anchor="end" font-weight="bold" fill="#555" stroke="#555" stroke-width="0.10">50</text>
<text x="496.7" y="400.8" font-size="3.2" text-anchor="end" font-weight="bold" fill="#555" stroke="#555" stroke-width="0.10">0</text>
<text x="566.7" y="416.3" font-size="3.8" text-anchor="middle" font-weight="bold" fill="#555" stroke="#555" stroke-width="0.11" textLength="17" lengthAdjust="spacingAndGlyphs">Time (s)</text>
<text x="490.2" y="361.65" font-size="3.6" text-anchor="middle" font-weight="bold" fill="#555" transform="rotate(-90 490.2 361.65)">(R-R0)/R0 (%)</text>
<text x="911.8" y="409.0" font-size="3.5" text-anchor="middle" font-weight="bold" fill="#555" stroke="#555" stroke-width="0.10" textLength="7" lengthAdjust="spacingAndGlyphs">3000</text>
<text x="938.8399999999999" y="409.0" font-size="3.5" text-anchor="middle" font-weight="bold" fill="#555" stroke="#555" stroke-width="0.10" textLength="7" lengthAdjust="spacingAndGlyphs">3010</text>
<text x="965.88" y="409.0" font-size="3.5" text-anchor="middle" font-weight="bold" fill="#555" stroke="#555" stroke-width="0.10" textLength="7" lengthAdjust="spacingAndGlyphs">3020</text>
<text x="992.92" y="409.0" font-size="3.5" text-anchor="middle" font-weight="bold" fill="#555" stroke="#555" stroke-width="0.10" textLength="7" lengthAdjust="spacingAndGlyphs">3030</text>
<text x="1019.96" y="409.0" font-size="3.5" text-anchor="middle" font-weight="bold" fill="#555" stroke="#555" stroke-width="0.10" textLength="7" lengthAdjust="spacingAndGlyphs">3040</text>
<text x="1047.0" y="409.0" font-size="3.5" text-anchor="middle" font-weight="bold" fill="#555" stroke="#555" stroke-width="0.10" textLength="7" lengthAdjust="spacingAndGlyphs">3050</text>
<text x="909.3" y="321.0" font-size="3.2" text-anchor="end" font-weight="bold" fill="#555" stroke="#555" stroke-width="0.10">150</text>
<text x="909.3" y="347.3333333333333" font-size="3.2" text-anchor="end" font-weight="bold" fill="#555" stroke="#555" stroke-width="0.10">100</text>
<text x="909.3" y="373.6666666666667" font-size="3.2" text-anchor="end" font-weight="bold" fill="#555" stroke="#555" stroke-width="0.10">50</text>
<text x="909.3" y="400.0" font-size="3.2" text-anchor="end" font-weight="bold" fill="#555" stroke="#555" stroke-width="0.10">0</text>
<text x="979.4" y="415.5" font-size="3.8" text-anchor="middle" font-weight="bold" fill="#555" stroke="#555" stroke-width="0.11" textLength="17" lengthAdjust="spacingAndGlyphs">Time (s)</text>
<text x="902.8" y="361.0" font-size="3.6" text-anchor="middle" font-weight="bold" fill="#555" transform="rotate(-90 902.8 361.0)">(R-R0)/R0 (%)</text>
<path d="M609.5,491 L609.5,417.5" fill="none" stroke="#f08a22" stroke-width="1.8" stroke-dasharray="4,2.4"/>
<path d="M609.5,418.0 L609.5,414.5 L614.5,414.5" fill="none" stroke="#f08a22" stroke-width="1.6"/>
<path d="M620.6,491 L620.6,416.5" fill="none" stroke="#f08a22" stroke-width="1.8" stroke-dasharray="4,2.4"/>
<path d="M902.5,491 L902.5,417.5" fill="none" stroke="#a2c03c" stroke-width="1.8" stroke-dasharray="4,2.4"/>
<path d="M902.5,418.0 L902.5,414.5 L907.5,414.5" fill="none" stroke="#a2c03c" stroke-width="1.6"/>
<path d="M913.3,491 L913.3,417" fill="none" stroke="#a2c03c" stroke-width="1.8" stroke-dasharray="4,2.4"/>
<text x="698" y="398" font-size="12" text-anchor="start" font-weight="bold" fill="#1a1a1a" stroke="#1a1a1a" stroke-width="0.30" textLength="142" lengthAdjust="spacingAndGlyphs">50% strain 500 cycles</text>
<rect x="464.25" y="306.75" width="609.75" height="188.25" fill="none" stroke="#3a3a3a" stroke-width="1.5"/>
<line x1="460.25" y1="490.50" x2="464.25" y2="490.50" stroke="#3a3a3a" stroke-width="1.2"/>
<line x1="460.25" y1="453.75" x2="464.25" y2="453.75" stroke="#3a3a3a" stroke-width="1.2"/>
<line x1="460.25" y1="417.00" x2="464.25" y2="417.00" stroke="#3a3a3a" stroke-width="1.2"/>
<line x1="460.25" y1="380.25" x2="464.25" y2="380.25" stroke="#3a3a3a" stroke-width="1.2"/>
<line x1="460.25" y1="343.50" x2="464.25" y2="343.50" stroke="#3a3a3a" stroke-width="1.2"/>
<line x1="460.25" y1="306.75" x2="464.25" y2="306.75" stroke="#3a3a3a" stroke-width="1.2"/>
<line x1="462.05" y1="472.12" x2="464.25" y2="472.12" stroke="#3a3a3a" stroke-width="1.2"/>
<line x1="462.05" y1="435.38" x2="464.25" y2="435.38" stroke="#3a3a3a" stroke-width="1.2"/>
<line x1="462.05" y1="398.62" x2="464.25" y2="398.62" stroke="#3a3a3a" stroke-width="1.2"/>
<line x1="462.05" y1="361.88" x2="464.25" y2="361.88" stroke="#3a3a3a" stroke-width="1.2"/>
<line x1="462.05" y1="325.12" x2="464.25" y2="325.12" stroke="#3a3a3a" stroke-width="1.2"/>
<line x1="464.25" y1="495.00" x2="464.25" y2="499.00" stroke="#3a3a3a" stroke-width="1.2"/>
<line x1="610.50" y1="495.00" x2="610.50" y2="499.00" stroke="#3a3a3a" stroke-width="1.2"/>
<line x1="756.75" y1="495.00" x2="756.75" y2="499.00" stroke="#3a3a3a" stroke-width="1.2"/>
<line x1="903.00" y1="495.00" x2="903.00" y2="499.00" stroke="#3a3a3a" stroke-width="1.2"/>
<line x1="1049.25" y1="495.00" x2="1049.25" y2="499.00" stroke="#3a3a3a" stroke-width="1.2"/>
<line x1="537.38" y1="495.00" x2="537.38" y2="497.20" stroke="#3a3a3a" stroke-width="1.2"/>
<line x1="683.62" y1="495.00" x2="683.62" y2="497.20" stroke="#3a3a3a" stroke-width="1.2"/>
<line x1="829.88" y1="495.00" x2="829.88" y2="497.20" stroke="#3a3a3a" stroke-width="1.2"/>
<line x1="976.12" y1="495.00" x2="976.12" y2="497.20" stroke="#3a3a3a" stroke-width="1.2"/>
<text x="454.5" y="493.8" font-size="9.5" text-anchor="end" font-weight="bold" fill="#1a1a1a" stroke="#1a1a1a" stroke-width="0.28" textLength="6.8" lengthAdjust="spacingAndGlyphs">0</text>
<text x="454.5" y="457.05" font-size="9.5" text-anchor="end" font-weight="bold" fill="#1a1a1a" stroke="#1a1a1a" stroke-width="0.28" textLength="13.6" lengthAdjust="spacingAndGlyphs">40</text>
<text x="454.5" y="420.3" font-size="9.5" text-anchor="end" font-weight="bold" fill="#1a1a1a" stroke="#1a1a1a" stroke-width="0.28" textLength="13.6" lengthAdjust="spacingAndGlyphs">80</text>
<text x="454.5" y="383.55" font-size="9.5" text-anchor="end" font-weight="bold" fill="#1a1a1a" stroke="#1a1a1a" stroke-width="0.28" textLength="20.4" lengthAdjust="spacingAndGlyphs">120</text>
<text x="454.5" y="346.8" font-size="9.5" text-anchor="end" font-weight="bold" fill="#1a1a1a" stroke="#1a1a1a" stroke-width="0.28" textLength="20.4" lengthAdjust="spacingAndGlyphs">160</text>
<text x="454.5" y="310.05" font-size="9.5" text-anchor="end" font-weight="bold" fill="#1a1a1a" stroke="#1a1a1a" stroke-width="0.28" textLength="20.4" lengthAdjust="spacingAndGlyphs">200</text>
<text x="464.25" y="510.8" font-size="9.5" text-anchor="middle" font-weight="bold" fill="#1a1a1a" stroke="#1a1a1a" stroke-width="0.28" textLength="6.7" lengthAdjust="spacingAndGlyphs">0</text>
<text x="610.5" y="510.8" font-size="9.5" text-anchor="middle" font-weight="bold" fill="#1a1a1a" stroke="#1a1a1a" stroke-width="0.28" textLength="26.8" lengthAdjust="spacingAndGlyphs">1000</text>
<text x="756.75" y="510.8" font-size="9.5" text-anchor="middle" font-weight="bold" fill="#1a1a1a" stroke="#1a1a1a" stroke-width="0.28" textLength="26.8" lengthAdjust="spacingAndGlyphs">2000</text>
<text x="903.0" y="510.8" font-size="9.5" text-anchor="middle" font-weight="bold" fill="#1a1a1a" stroke="#1a1a1a" stroke-width="0.28" textLength="26.8" lengthAdjust="spacingAndGlyphs">3000</text>
<text x="1049.25" y="510.8" font-size="9.5" text-anchor="middle" font-weight="bold" fill="#1a1a1a" stroke="#1a1a1a" stroke-width="0.28" textLength="26.8" lengthAdjust="spacingAndGlyphs">4000</text>
<text x="769.4" y="529.5" font-size="13.5" text-anchor="middle" font-weight="bold" fill="#1a1a1a" stroke="#1a1a1a" stroke-width="0.30" textLength="53.7" lengthAdjust="spacingAndGlyphs">Time (s)</text>
<text x="411.5" y="393.4" font-size="12" text-anchor="middle" font-weight="bold" fill="#1a1a1a" stroke="#1a1a1a" stroke-width="0.3" textLength="69.5" lengthAdjust="spacingAndGlyphs" transform="rotate(-90 411.5 393.4)">(R-R<tspan font-size="8.4" dy="2.6">0</tspan><tspan dy="-2.6">)/R</tspan><tspan font-size="8.4" dy="2.6">0</tspan><tspan dy="-2.6"> (%)</tspan></text>
<rect x="78.00" y="553.00" width="152.00" height="197.00" fill="#fdeee1"/>
<rect x="230.00" y="553.00" width="126.50" height="197.00" fill="#f4f8e6"/>
<polyline points="77.70,567.50 79.66,568.26 82.26,569.22 85.36,570.35 88.80,571.64 92.44,573.08 96.14,574.65 99.73,576.34 103.08,578.14 106.25,580.13 109.42,582.35 112.59,584.75 115.76,587.26 118.93,589.80 122.11,592.32 125.28,594.74 128.45,596.99 131.62,599.06 134.79,601.02 137.97,602.90 141.14,604.74 144.31,606.58 147.48,608.46 150.65,610.42 153.82,612.49 157.00,614.63 160.17,616.77 163.34,618.94 166.51,621.17 169.68,623.50 172.86,625.95 176.03,628.55 179.20,631.34 182.37,634.41 185.54,637.77 188.72,641.34 191.89,645.00 195.06,648.67 198.23,652.24 201.40,655.61 204.57,658.70 207.75,661.55 210.92,664.29 214.09,666.90 217.26,669.38 220.43,671.72 223.61,673.92 226.78,675.97 229.95,677.85 233.12,679.53 236.29,681.00 239.47,682.28 242.64,683.44 245.81,684.50 248.98,685.52 252.15,686.53 255.32,687.58 258.50,688.64 261.67,689.64 264.84,690.61 268.01,691.55 271.18,692.47 274.36,693.37 277.53,694.27 280.70,695.18 283.87,696.06 287.04,696.88 290.22,697.67 293.39,698.47 296.56,699.29 299.73,700.16 302.90,701.11 306.07,702.17 309.25,703.33 312.42,704.56 315.59,705.85 318.76,707.21 321.93,708.62 325.11,710.07 328.28,711.58 331.45,713.12 334.80,714.81 338.39,716.73 342.08,718.75 345.72,720.79 349.17,722.75 352.27,724.52 354.87,726.00 356.82,727.10" fill="none" stroke="#e2b98a" stroke-width="1.0" stroke-linejoin="round"/>
<path d="M103.08,575.14 L106.08,580.14 L100.08,580.14 Z" fill="#8fc060"/>
<path d="M128.45,593.99 L131.45,598.99 L125.45,598.99 Z" fill="#8fc060"/>
<path d="M153.82,609.49 L156.82,614.49 L150.82,614.49 Z" fill="#8fc060"/>
<path d="M179.20,628.34 L182.20,633.34 L176.20,633.34 Z" fill="#8fc060"/>
<path d="M204.57,655.70 L207.57,660.70 L201.57,660.70 Z" fill="#8fc060"/>
<path d="M229.95,674.85 L232.95,679.85 L226.95,679.85 Z" fill="#8fc060"/>
<path d="M255.32,684.58 L258.32,689.58 L252.32,689.58 Z" fill="#8fc060"/>
<path d="M280.70,692.18 L283.70,697.18 L277.70,697.18 Z" fill="#8fc060"/>
<path d="M306.07,699.17 L309.07,704.17 L303.07,704.17 Z" fill="#8fc060"/>
<path d="M331.45,710.12 L334.45,715.12 L328.45,715.12 Z" fill="#8fc060"/>
<path d="M356.82,724.10 L359.82,729.10 L353.82,729.10 Z" fill="#8fc060"/>
<rect x="78" y="553" width="278.5" height="197" fill="none" stroke="#3a3a3a" stroke-width="1.5"/>
<line x1="74.50" y1="567.50" x2="78.00" y2="567.50" stroke="#3a3a3a" stroke-width="1.2"/>
<line x1="74.50" y1="597.90" x2="78.00" y2="597.90" stroke="#3a3a3a" stroke-width="1.2"/>
<line x1="74.50" y1="628.30" x2="78.00" y2="628.30" stroke="#3a3a3a" stroke-width="1.2"/>
<line x1="74.50" y1="658.70" x2="78.00" y2="658.70" stroke="#3a3a3a" stroke-width="1.2"/>
<line x1="74.50" y1="689.10" x2="78.00" y2="689.10" stroke="#3a3a3a" stroke-width="1.2"/>
<line x1="74.50" y1="719.50" x2="78.00" y2="719.50" stroke="#3a3a3a" stroke-width="1.2"/>
<line x1="74.50" y1="749.90" x2="78.00" y2="749.90" stroke="#3a3a3a" stroke-width="1.2"/>
<line x1="76.00" y1="582.70" x2="78.00" y2="582.70" stroke="#3a3a3a" stroke-width="1.2"/>
<line x1="76.00" y1="613.10" x2="78.00" y2="613.10" stroke="#3a3a3a" stroke-width="1.2"/>
<line x1="76.00" y1="643.50" x2="78.00" y2="643.50" stroke="#3a3a3a" stroke-width="1.2"/>
<line x1="76.00" y1="673.90" x2="78.00" y2="673.90" stroke="#3a3a3a" stroke-width="1.2"/>
<line x1="76.00" y1="704.30" x2="78.00" y2="704.30" stroke="#3a3a3a" stroke-width="1.2"/>
<line x1="76.00" y1="734.70" x2="78.00" y2="734.70" stroke="#3a3a3a" stroke-width="1.2"/>
<line x1="103.08" y1="750.00" x2="103.08" y2="753.50" stroke="#3a3a3a" stroke-width="1.2"/>
<line x1="153.82" y1="750.00" x2="153.82" y2="753.50" stroke="#3a3a3a" stroke-width="1.2"/>
<line x1="204.57" y1="750.00" x2="204.57" y2="753.50" stroke="#3a3a3a" stroke-width="1.2"/>
<line x1="255.32" y1="750.00" x2="255.32" y2="753.50" stroke="#3a3a3a" stroke-width="1.2"/>
<line x1="306.07" y1="750.00" x2="306.07" y2="753.50" stroke="#3a3a3a" stroke-width="1.2"/>
<line x1="356.82" y1="750.00" x2="356.82" y2="753.50" stroke="#3a3a3a" stroke-width="1.2"/>
<line x1="128.45" y1="750.00" x2="128.45" y2="752.00" stroke="#3a3a3a" stroke-width="1.2"/>
<line x1="179.20" y1="750.00" x2="179.20" y2="752.00" stroke="#3a3a3a" stroke-width="1.2"/>
<line x1="229.95" y1="750.00" x2="229.95" y2="752.00" stroke="#3a3a3a" stroke-width="1.2"/>
<line x1="280.70" y1="750.00" x2="280.70" y2="752.00" stroke="#3a3a3a" stroke-width="1.2"/>
<line x1="331.45" y1="750.00" x2="331.45" y2="752.00" stroke="#3a3a3a" stroke-width="1.2"/>
<text x="70.5" y="570.1" font-size="7.5" text-anchor="end" font-weight="bold" fill="#1a1a1a" stroke="#1a1a1a" stroke-width="0.22" textLength="4.5" lengthAdjust="spacingAndGlyphs">0</text>
<text x="70.5" y="600.5" font-size="7.5" text-anchor="end" font-weight="bold" fill="#1a1a1a" stroke="#1a1a1a" stroke-width="0.22" textLength="13.5" lengthAdjust="spacingAndGlyphs">-10</text>
<text x="70.5" y="630.9" font-size="7.5" text-anchor="end" font-weight="bold" fill="#1a1a1a" stroke="#1a1a1a" stroke-width="0.22" textLength="13.5" lengthAdjust="spacingAndGlyphs">-20</text>
<text x="70.5" y="661.3000000000001" font-size="7.5" text-anchor="end" font-weight="bold" fill="#1a1a1a" stroke="#1a1a1a" stroke-width="0.22" textLength="13.5" lengthAdjust="spacingAndGlyphs">-30</text>
<text x="70.5" y="691.7" font-size="7.5" text-anchor="end" font-weight="bold" fill="#1a1a1a" stroke="#1a1a1a" stroke-width="0.22" textLength="13.5" lengthAdjust="spacingAndGlyphs">-40</text>
<text x="70.5" y="722.1" font-size="7.5" text-anchor="end" font-weight="bold" fill="#1a1a1a" stroke="#1a1a1a" stroke-width="0.22" textLength="13.5" lengthAdjust="spacingAndGlyphs">-50</text>
<text x="70.5" y="752.5" font-size="7.5" text-anchor="end" font-weight="bold" fill="#1a1a1a" stroke="#1a1a1a" stroke-width="0.22" textLength="13.5" lengthAdjust="spacingAndGlyphs">-60</text>
<text x="103.075" y="764.3" font-size="7.5" text-anchor="middle" font-weight="bold" fill="#1a1a1a" stroke="#1a1a1a" stroke-width="0.22" textLength="9.8" lengthAdjust="spacingAndGlyphs">30</text>
<text x="153.825" y="764.3" font-size="7.5" text-anchor="middle" font-weight="bold" fill="#1a1a1a" stroke="#1a1a1a" stroke-width="0.22" textLength="9.8" lengthAdjust="spacingAndGlyphs">40</text>
<text x="204.575" y="764.3" font-size="7.5" text-anchor="middle" font-weight="bold" fill="#1a1a1a" stroke="#1a1a1a" stroke-width="0.22" textLength="9.8" lengthAdjust="spacingAndGlyphs">50</text>
<text x="255.325" y="764.3" font-size="7.5" text-anchor="middle" font-weight="bold" fill="#1a1a1a" stroke="#1a1a1a" stroke-width="0.22" textLength="9.8" lengthAdjust="spacingAndGlyphs">60</text>
<text x="306.075" y="764.3" font-size="7.5" text-anchor="middle" font-weight="bold" fill="#1a1a1a" stroke="#1a1a1a" stroke-width="0.22" textLength="9.8" lengthAdjust="spacingAndGlyphs">70</text>
<text x="356.825" y="764.3" font-size="7.5" text-anchor="middle" font-weight="bold" fill="#1a1a1a" stroke="#1a1a1a" stroke-width="0.22" textLength="9.8" lengthAdjust="spacingAndGlyphs">80</text>
<text x="217.5" y="780.75" font-size="11" text-anchor="middle" font-weight="bold" fill="#1a1a1a" stroke="#1a1a1a" stroke-width="0.30" textLength="85" lengthAdjust="spacingAndGlyphs">Temperature(°C)</text>
<text x="50.5" y="651.75" font-size="10" text-anchor="middle" font-weight="bold" fill="#1a1a1a" stroke="#1a1a1a" stroke-width="0.3" textLength="58.5" lengthAdjust="spacingAndGlyphs" transform="rotate(-90 50.5 651.75)">(R-R<tspan font-size="7.0" dy="2.2">0</tspan><tspan dy="-2.2">)/R</tspan><tspan font-size="7.0" dy="2.2">0</tspan><tspan dy="-2.2">(%)</tspan></text>
<text x="137.5" y="595.5" font-size="10" text-anchor="start" font-weight="bold" fill="#1a1a1a" stroke="#1a1a1a" stroke-width="0.30" textLength="81" lengthAdjust="spacingAndGlyphs">TCR=-1.24%/°C</text>
<text x="209.5" y="637" font-size="10" font-weight="bold" fill="#1a1a1a" stroke="#1a1a1a" stroke-width="0.3" textLength="39" lengthAdjust="spacingAndGlyphs">R<tspan font-size="6.5" dy="-4">2</tspan><tspan dy="4">&lt;0.99</tspan></text>
<text x="262.5" y="683" font-size="10" text-anchor="start" font-weight="bold" fill="#1a1a1a" stroke="#1a1a1a" stroke-width="0.30" textLength="83" lengthAdjust="spacingAndGlyphs">TCR=-0.61%/°C</text>
<polyline points="432.38,599.36 434.84,599.00 437.30,597.10 439.76,596.32 442.22,596.76 444.68,598.17 447.14,599.80 449.60,599.91 452.06,598.78 454.52,598.12 456.98,597.31 459.44,598.32 461.90,599.14 464.36,599.19 466.82,597.75 469.28,596.07 471.74,596.90 474.20,597.27 476.66,599.05 479.12,599.51 481.58,598.84 484.04,597.70 486.50,597.73 488.96,598.65 491.42,599.83 493.88,599.28 496.34,597.74 498.80,596.56 501.26,596.26 503.72,597.86 506.18,598.36 508.64,599.35 511.10,598.09 513.56,597.46 516.02,597.20 518.48,598.89 520.94,600.01 523.40,599.70 525.86,598.74 528.32,597.59 530.78,597.05 533.24,598.34 535.70,598.73 538.16,599.16 540.62,597.71 543.08,596.21 545.54,597.06 548.00,598.36 550.46,599.86 552.92,599.53 555.38,599.00 557.84,598.11 560.30,597.25 562.76,598.63 565.22,599.52 567.68,599.50 570.14,597.37 572.60,596.27 575.06,596.41 577.52,597.73 579.98,599.85 582.44,599.26 584.90,598.83 587.36,597.64 589.82,598.17 592.28,599.35 594.74,600.30 597.20,599.26 599.66,597.92 602.12,596.90 604.58,596.35 607.04,598.12 609.50,598.61 611.96,599.02 614.42,597.51 616.88,596.83 619.34,597.91 621.80,598.76 624.26,600.66 626.72,600.00 629.18,598.22 631.64,597.64 634.10,596.88 636.56,597.78 639.02,599.32 641.48,598.21 643.94,597.53 646.40,596.69 648.86,596.69 651.32,599.27 653.78,599.58 656.24,600.04 658.70,598.29 661.16,597.48 663.62,597.66 666.08,599.04 668.54,599.75 671.00,598.72 673.46,597.02 675.92,595.93 678.38,596.26 680.84,597.69 683.30,599.95 685.76,599.78 688.22,598.24 690.68,597.81 693.14,598.00 695.60,599.62 698.06,600.12 700.52,599.60" fill="none" stroke="#f08a2a" stroke-width="0.8" stroke-linejoin="round"/>
<polyline points="432.38,662.96 434.84,663.44 437.30,663.69 439.76,664.43 442.22,665.20 444.68,664.08 447.14,663.43 449.60,663.44 452.06,662.75 454.52,664.02 456.98,664.65 459.44,665.15 461.90,665.35 464.36,664.98 466.82,664.03 469.28,664.49 471.74,664.56 474.20,665.06 476.66,665.98 479.12,666.05 481.58,665.17 484.04,663.69 486.50,662.72 488.96,662.37 491.42,663.71 493.88,663.65 496.34,664.65 498.80,664.96 501.26,663.88 503.72,663.71 506.18,662.51 508.64,663.27 511.10,665.09 513.56,665.41 516.02,666.62 518.48,666.15 520.94,664.93 523.40,663.56 525.86,663.53 528.32,665.17 530.78,665.97 533.24,665.79 535.70,665.55 538.16,663.67 540.62,662.58 543.08,662.83 545.54,663.08 548.00,663.87 550.46,664.57 552.92,664.81 555.38,664.04 557.84,663.79 560.30,663.25 562.76,664.26 565.22,664.65 567.68,665.66 570.14,666.76 572.60,665.87 575.06,665.06 577.52,663.82 579.98,664.36 582.44,663.82 584.90,665.10 587.36,665.62 589.82,665.24 592.28,663.94 594.74,663.17 597.20,663.11 599.66,662.70 602.12,664.16 604.58,665.04 607.04,665.12 609.50,665.10 611.96,664.13 614.42,663.61 616.88,664.21 619.34,664.59 621.80,665.85 624.26,666.76 626.72,666.32 629.18,664.60 631.64,664.28 634.10,663.49 636.56,664.14 639.02,664.89 641.48,665.39 643.94,665.00 646.40,664.16 648.86,663.45 651.32,662.12 653.78,662.36 656.24,663.31 658.70,665.12 661.16,664.91 663.62,665.01 666.08,664.51 668.54,664.30 671.00,664.18 673.46,665.23 675.92,665.49 678.38,665.80 680.84,665.89 683.30,664.73 685.76,664.17 688.22,663.38 690.68,663.12 693.14,664.45 695.60,664.44 698.06,664.50 700.52,664.46" fill="none" stroke="#7cb342" stroke-width="0.8" stroke-linejoin="round"/>
<circle cx="432.38" cy="599.36" r="2.2" fill="#f0891f"/>
<circle cx="434.84" cy="599.00" r="2.2" fill="#f0891f"/>
<circle cx="437.30" cy="597.10" r="2.2" fill="#f0891f"/>
<circle cx="439.76" cy="596.32" r="2.2" fill="#f0891f"/>
<circle cx="442.22" cy="596.76" r="2.2" fill="#f0891f"/>
<circle cx="444.68" cy="598.17" r="2.2" fill="#f0891f"/>
<circle cx="447.14" cy="599.80" r="2.2" fill="#f0891f"/>
<circle cx="449.60" cy="599.91" r="2.2" fill="#f0891f"/>
<circle cx="452.06" cy="598.78" r="2.2" fill="#f0891f"/>
<circle cx="454.52" cy="598.12" r="2.2" fill="#f0891f"/>
<circle cx="456.98" cy="597.31" r="2.2" fill="#f0891f"/>
<circle cx="459.44" cy="598.32" r="2.2" fill="#f0891f"/>
<circle cx="461.90" cy="599.14" r="2.2" fill="#f0891f"/>
<circle cx="464.36" cy="599.19" r="2.2" fill="#f0891f"/>
<circle cx="466.82" cy="597.75" r="2.2" fill="#f0891f"/>
<circle cx="469.28" cy="596.07" r="2.2" fill="#f0891f"/>
<circle cx="471.74" cy="596.90" r="2.2" fill="#f0891f"/>
<circle cx="474.20" cy="597.27" r="2.2" fill="#f0891f"/>
<circle cx="476.66" cy="599.05" r="2.2" fill="#f0891f"/>
<circle cx="479.12" cy="599.51" r="2.2" fill="#f0891f"/>
<circle cx="481.58" cy="598.84" r="2.2" fill="#f0891f"/>
<circle cx="484.04" cy="597.70" r="2.2" fill="#f0891f"/>
<circle cx="486.50" cy="597.73" r="2.2" fill="#f0891f"/>
<circle cx="488.96" cy="598.65" r="2.2" fill="#f0891f"/>
<circle cx="491.42" cy="599.83" r="2.2" fill="#f0891f"/>
<circle cx="493.88" cy="599.28" r="2.2" fill="#f0891f"/>
<circle cx="496.34" cy="597.74" r="2.2" fill="#f0891f"/>
<circle cx="498.80" cy="596.56" r="2.2" fill="#f0891f"/>
<circle cx="501.26" cy="596.26" r="2.2" fill="#f0891f"/>
<circle cx="503.72" cy="597.86" r="2.2" fill="#f0891f"/>
<circle cx="506.18" cy="598.36" r="2.2" fill="#f0891f"/>
<circle cx="508.64" cy="599.35" r="2.2" fill="#f0891f"/>
<circle cx="511.10" cy="598.09" r="2.2" fill="#f0891f"/>
<circle cx="513.56" cy="597.46" r="2.2" fill="#f0891f"/>
<circle cx="516.02" cy="597.20" r="2.2" fill="#f0891f"/>
<circle cx="518.48" cy="598.89" r="2.2" fill="#f0891f"/>
<circle cx="520.94" cy="600.01" r="2.2" fill="#f0891f"/>
<circle cx="523.40" cy="599.70" r="2.2" fill="#f0891f"/>
<circle cx="525.86" cy="598.74" r="2.2" fill="#f0891f"/>
<circle cx="528.32" cy="597.59" r="2.2" fill="#f0891f"/>
<circle cx="530.78" cy="597.05" r="2.2" fill="#f0891f"/>
<circle cx="533.24" cy="598.34" r="2.2" fill="#f0891f"/>
<circle cx="535.70" cy="598.73" r="2.2" fill="#f0891f"/>
<circle cx="538.16" cy="599.16" r="2.2" fill="#f0891f"/>
<circle cx="540.62" cy="597.71" r="2.2" fill="#f0891f"/>
<circle cx="543.08" cy="596.21" r="2.2" fill="#f0891f"/>
<circle cx="545.54" cy="597.06" r="2.2" fill="#f0891f"/>
<circle cx="548.00" cy="598.36" r="2.2" fill="#f0891f"/>
<circle cx="550.46" cy="599.86" r="2.2" fill="#f0891f"/>
<circle cx="552.92" cy="599.53" r="2.2" fill="#f0891f"/>
<circle cx="555.38" cy="599.00" r="2.2" fill="#f0891f"/>
<circle cx="557.84" cy="598.11" r="2.2" fill="#f0891f"/>
<circle cx="560.30" cy="597.25" r="2.2" fill="#f0891f"/>
<circle cx="562.76" cy="598.63" r="2.2" fill="#f0891f"/>
<circle cx="565.22" cy="599.52" r="2.2" fill="#f0891f"/>
<circle cx="567.68" cy="599.50" r="2.2" fill="#f0891f"/>
<circle cx="570.14" cy="597.37" r="2.2" fill="#f0891f"/>
<circle cx="572.60" cy="596.27" r="2.2" fill="#f0891f"/>
<circle cx="575.06" cy="596.41" r="2.2" fill="#f0891f"/>
<circle cx="577.52" cy="597.73" r="2.2" fill="#f0891f"/>
<circle cx="579.98" cy="599.85" r="2.2" fill="#f0891f"/>
<circle cx="582.44" cy="599.26" r="2.2" fill="#f0891f"/>
<circle cx="584.90" cy="598.83" r="2.2" fill="#f0891f"/>
<circle cx="587.36" cy="597.64" r="2.2" fill="#f0891f"/>
<circle cx="589.82" cy="598.17" r="2.2" fill="#f0891f"/>
<circle cx="592.28" cy="599.35" r="2.2" fill="#f0891f"/>
<circle cx="594.74" cy="600.30" r="2.2" fill="#f0891f"/>
<circle cx="597.20" cy="599.26" r="2.2" fill="#f0891f"/>
<circle cx="599.66" cy="597.92" r="2.2" fill="#f0891f"/>
<circle cx="602.12" cy="596.90" r="2.2" fill="#f0891f"/>
<circle cx="604.58" cy="596.35" r="2.2" fill="#f0891f"/>
<circle cx="607.04" cy="598.12" r="2.2" fill="#f0891f"/>
<circle cx="609.50" cy="598.61" r="2.2" fill="#f0891f"/>
<circle cx="611.96" cy="599.02" r="2.2" fill="#f0891f"/>
<circle cx="614.42" cy="597.51" r="2.2" fill="#f0891f"/>
<circle cx="616.88" cy="596.83" r="2.2" fill="#f0891f"/>
<circle cx="619.34" cy="597.91" r="2.2" fill="#f0891f"/>
<circle cx="621.80" cy="598.76" r="2.2" fill="#f0891f"/>
<circle cx="624.26" cy="600.66" r="2.2" fill="#f0891f"/>
<circle cx="626.72" cy="600.00" r="2.2" fill="#f0891f"/>
<circle cx="629.18" cy="598.22" r="2.2" fill="#f0891f"/>
<circle cx="631.64" cy="597.64" r="2.2" fill="#f0891f"/>
<circle cx="634.10" cy="596.88" r="2.2" fill="#f0891f"/>
<circle cx="636.56" cy="597.78" r="2.2" fill="#f0891f"/>
<circle cx="639.02" cy="599.32" r="2.2" fill="#f0891f"/>
<circle cx="641.48" cy="598.21" r="2.2" fill="#f0891f"/>
<circle cx="643.94" cy="597.53" r="2.2" fill="#f0891f"/>
<circle cx="646.40" cy="596.69" r="2.2" fill="#f0891f"/>
<circle cx="648.86" cy="596.69" r="2.2" fill="#f0891f"/>
<circle cx="651.32" cy="599.27" r="2.2" fill="#f0891f"/>
<circle cx="653.78" cy="599.58" r="2.2" fill="#f0891f"/>
<circle cx="656.24" cy="600.04" r="2.2" fill="#f0891f"/>
<circle cx="658.70" cy="598.29" r="2.2" fill="#f0891f"/>
<circle cx="661.16" cy="597.48" r="2.2" fill="#f0891f"/>
<circle cx="663.62" cy="597.66" r="2.2" fill="#f0891f"/>
<circle cx="666.08" cy="599.04" r="2.2" fill="#f0891f"/>
<circle cx="668.54" cy="599.75" r="2.2" fill="#f0891f"/>
<circle cx="671.00" cy="598.72" r="2.2" fill="#f0891f"/>
<circle cx="673.46" cy="597.02" r="2.2" fill="#f0891f"/>
<circle cx="675.92" cy="595.93" r="2.2" fill="#f0891f"/>
<circle cx="678.38" cy="596.26" r="2.2" fill="#f0891f"/>
<circle cx="680.84" cy="597.69" r="2.2" fill="#f0891f"/>
<circle cx="683.30" cy="599.95" r="2.2" fill="#f0891f"/>
<circle cx="685.76" cy="599.78" r="2.2" fill="#f0891f"/>
<circle cx="688.22" cy="598.24" r="2.2" fill="#f0891f"/>
<circle cx="690.68" cy="597.81" r="2.2" fill="#f0891f"/>
<circle cx="693.14" cy="598.00" r="2.2" fill="#f0891f"/>
<circle cx="695.60" cy="599.62" r="2.2" fill="#f0891f"/>
<circle cx="698.06" cy="600.12" r="2.2" fill="#f0891f"/>
<circle cx="700.52" cy="599.60" r="2.2" fill="#f0891f"/>
<circle cx="432.38" cy="662.96" r="2.2" fill="#74ac3c"/>
<circle cx="434.84" cy="663.44" r="2.2" fill="#74ac3c"/>
<circle cx="437.30" cy="663.69" r="2.2" fill="#74ac3c"/>
<circle cx="439.76" cy="664.43" r="2.2" fill="#74ac3c"/>
<circle cx="442.22" cy="665.20" r="2.2" fill="#74ac3c"/>
<circle cx="444.68" cy="664.08" r="2.2" fill="#74ac3c"/>
<circle cx="447.14" cy="663.43" r="2.2" fill="#74ac3c"/>
<circle cx="449.60" cy="663.44" r="2.2" fill="#74ac3c"/>
<circle cx="452.06" cy="662.75" r="2.2" fill="#74ac3c"/>
<circle cx="454.52" cy="664.02" r="2.2" fill="#74ac3c"/>
<circle cx="456.98" cy="664.65" r="2.2" fill="#74ac3c"/>
<circle cx="459.44" cy="665.15" r="2.2" fill="#74ac3c"/>
<circle cx="461.90" cy="665.35" r="2.2" fill="#74ac3c"/>
<circle cx="464.36" cy="664.98" r="2.2" fill="#74ac3c"/>
<circle cx="466.82" cy="664.03" r="2.2" fill="#74ac3c"/>
<circle cx="469.28" cy="664.49" r="2.2" fill="#74ac3c"/>
<circle cx="471.74" cy="664.56" r="2.2" fill="#74ac3c"/>
<circle cx="474.20" cy="665.06" r="2.2" fill="#74ac3c"/>
<circle cx="476.66" cy="665.98" r="2.2" fill="#74ac3c"/>
<circle cx="479.12" cy="666.05" r="2.2" fill="#74ac3c"/>
<circle cx="481.58" cy="665.17" r="2.2" fill="#74ac3c"/>
<circle cx="484.04" cy="663.69" r="2.2" fill="#74ac3c"/>
<circle cx="486.50" cy="662.72" r="2.2" fill="#74ac3c"/>
<circle cx="488.96" cy="662.37" r="2.2" fill="#74ac3c"/>
<circle cx="491.42" cy="663.71" r="2.2" fill="#74ac3c"/>
<circle cx="493.88" cy="663.65" r="2.2" fill="#74ac3c"/>
<circle cx="496.34" cy="664.65" r="2.2" fill="#74ac3c"/>
<circle cx="498.80" cy="664.96" r="2.2" fill="#74ac3c"/>
<circle cx="501.26" cy="663.88" r="2.2" fill="#74ac3c"/>
<circle cx="503.72" cy="663.71" r="2.2" fill="#74ac3c"/>
<circle cx="506.18" cy="662.51" r="2.2" fill="#74ac3c"/>
<circle cx="508.64" cy="663.27" r="2.2" fill="#74ac3c"/>
<circle cx="511.10" cy="665.09" r="2.2" fill="#74ac3c"/>
<circle cx="513.56" cy="665.41" r="2.2" fill="#74ac3c"/>
<circle cx="516.02" cy="666.62" r="2.2" fill="#74ac3c"/>
<circle cx="518.48" cy="666.15" r="2.2" fill="#74ac3c"/>
<circle cx="520.94" cy="664.93" r="2.2" fill="#74ac3c"/>
<circle cx="523.40" cy="663.56" r="2.2" fill="#74ac3c"/>
<circle cx="525.86" cy="663.53" r="2.2" fill="#74ac3c"/>
<circle cx="528.32" cy="665.17" r="2.2" fill="#74ac3c"/>
<circle cx="530.78" cy="665.97" r="2.2" fill="#74ac3c"/>
<circle cx="533.24" cy="665.79" r="2.2" fill="#74ac3c"/>
<circle cx="535.70" cy="665.55" r="2.2" fill="#74ac3c"/>
<circle cx="538.16" cy="663.67" r="2.2" fill="#74ac3c"/>
<circle cx="540.62" cy="662.58" r="2.2" fill="#74ac3c"/>
<circle cx="543.08" cy="662.83" r="2.2" fill="#74ac3c"/>
<circle cx="545.54" cy="663.08" r="2.2" fill="#74ac3c"/>
<circle cx="548.00" cy="663.87" r="2.2" fill="#74ac3c"/>
<circle cx="550.46" cy="664.57" r="2.2" fill="#74ac3c"/>
<circle cx="552.92" cy="664.81" r="2.2" fill="#74ac3c"/>
<circle cx="555.38" cy="664.04" r="2.2" fill="#74ac3c"/>
<circle cx="557.84" cy="663.79" r="2.2" fill="#74ac3c"/>
<circle cx="560.30" cy="663.25" r="2.2" fill="#74ac3c"/>
<circle cx="562.76" cy="664.26" r="2.2" fill="#74ac3c"/>
<circle cx="565.22" cy="664.65" r="2.2" fill="#74ac3c"/>
<circle cx="567.68" cy="665.66" r="2.2" fill="#74ac3c"/>
<circle cx="570.14" cy="666.76" r="2.2" fill="#74ac3c"/>
<circle cx="572.60" cy="665.87" r="2.2" fill="#74ac3c"/>
<circle cx="575.06" cy="665.06" r="2.2" fill="#74ac3c"/>
<circle cx="577.52" cy="663.82" r="2.2" fill="#74ac3c"/>
<circle cx="579.98" cy="664.36" r="2.2" fill="#74ac3c"/>
<circle cx="582.44" cy="663.82" r="2.2" fill="#74ac3c"/>
<circle cx="584.90" cy="665.10" r="2.2" fill="#74ac3c"/>
<circle cx="587.36" cy="665.62" r="2.2" fill="#74ac3c"/>
<circle cx="589.82" cy="665.24" r="2.2" fill="#74ac3c"/>
<circle cx="592.28" cy="663.94" r="2.2" fill="#74ac3c"/>
<circle cx="594.74" cy="663.17" r="2.2" fill="#74ac3c"/>
<circle cx="597.20" cy="663.11" r="2.2" fill="#74ac3c"/>
<circle cx="599.66" cy="662.70" r="2.2" fill="#74ac3c"/>
<circle cx="602.12" cy="664.16" r="2.2" fill="#74ac3c"/>
<circle cx="604.58" cy="665.04" r="2.2" fill="#74ac3c"/>
<circle cx="607.04" cy="665.12" r="2.2" fill="#74ac3c"/>
<circle cx="609.50" cy="665.10" r="2.2" fill="#74ac3c"/>
<circle cx="611.96" cy="664.13" r="2.2" fill="#74ac3c"/>
<circle cx="614.42" cy="663.61" r="2.2" fill="#74ac3c"/>
<circle cx="616.88" cy="664.21" r="2.2" fill="#74ac3c"/>
<circle cx="619.34" cy="664.59" r="2.2" fill="#74ac3c"/>
<circle cx="621.80" cy="665.85" r="2.2" fill="#74ac3c"/>
<circle cx="624.26" cy="666.76" r="2.2" fill="#74ac3c"/>
<circle cx="626.72" cy="666.32" r="2.2" fill="#74ac3c"/>
<circle cx="629.18" cy="664.60" r="2.2" fill="#74ac3c"/>
<circle cx="631.64" cy="664.28" r="2.2" fill="#74ac3c"/>
<circle cx="634.10" cy="663.49" r="2.2" fill="#74ac3c"/>
<circle cx="636.56" cy="664.14" r="2.2" fill="#74ac3c"/>
<circle cx="639.02" cy="664.89" r="2.2" fill="#74ac3c"/>
<circle cx="641.48" cy="665.39" r="2.2" fill="#74ac3c"/>
<circle cx="643.94" cy="665.00" r="2.2" fill="#74ac3c"/>
<circle cx="646.40" cy="664.16" r="2.2" fill="#74ac3c"/>
<circle cx="648.86" cy="663.45" r="2.2" fill="#74ac3c"/>
<circle cx="651.32" cy="662.12" r="2.2" fill="#74ac3c"/>
<circle cx="653.78" cy="662.36" r="2.2" fill="#74ac3c"/>
<circle cx="656.24" cy="663.31" r="2.2" fill="#74ac3c"/>
<circle cx="658.70" cy="665.12" r="2.2" fill="#74ac3c"/>
<circle cx="661.16" cy="664.91" r="2.2" fill="#74ac3c"/>
<circle cx="663.62" cy="665.01" r="2.2" fill="#74ac3c"/>
<circle cx="666.08" cy="664.51" r="2.2" fill="#74ac3c"/>
<circle cx="668.54" cy="664.30" r="2.2" fill="#74ac3c"/>
<circle cx="671.00" cy="664.18" r="2.2" fill="#74ac3c"/>
<circle cx="673.46" cy="665.23" r="2.2" fill="#74ac3c"/>
<circle cx="675.92" cy="665.49" r="2.2" fill="#74ac3c"/>
<circle cx="678.38" cy="665.80" r="2.2" fill="#74ac3c"/>
<circle cx="680.84" cy="665.89" r="2.2" fill="#74ac3c"/>
<circle cx="683.30" cy="664.73" r="2.2" fill="#74ac3c"/>
<circle cx="685.76" cy="664.17" r="2.2" fill="#74ac3c"/>
<circle cx="688.22" cy="663.38" r="2.2" fill="#74ac3c"/>
<circle cx="690.68" cy="663.12" r="2.2" fill="#74ac3c"/>
<circle cx="693.14" cy="664.45" r="2.2" fill="#74ac3c"/>
<circle cx="695.60" cy="664.44" r="2.2" fill="#74ac3c"/>
<circle cx="698.06" cy="664.50" r="2.2" fill="#74ac3c"/>
<circle cx="700.52" cy="664.46" r="2.2" fill="#74ac3c"/>
<rect x="432" y="554.5" width="270" height="198.5" fill="none" stroke="#3a3a3a" stroke-width="1.5"/>
<line x1="428.50" y1="752.75" x2="432.00" y2="752.75" stroke="#3a3a3a" stroke-width="1.2"/>
<line x1="428.50" y1="666.75" x2="432.00" y2="666.75" stroke="#3a3a3a" stroke-width="1.2"/>
<line x1="428.50" y1="580.75" x2="432.00" y2="580.75" stroke="#3a3a3a" stroke-width="1.2"/>
<line x1="430.20" y1="726.86" x2="432.00" y2="726.86" stroke="#3a3a3a" stroke-width="1.2"/>
<line x1="430.20" y1="711.72" x2="432.00" y2="711.72" stroke="#3a3a3a" stroke-width="1.2"/>
<line x1="430.20" y1="700.97" x2="432.00" y2="700.97" stroke="#3a3a3a" stroke-width="1.2"/>
<line x1="430.20" y1="692.64" x2="432.00" y2="692.64" stroke="#3a3a3a" stroke-width="1.2"/>
<line x1="430.20" y1="685.83" x2="432.00" y2="685.83" stroke="#3a3a3a" stroke-width="1.2"/>
<line x1="430.20" y1="680.07" x2="432.00" y2="680.07" stroke="#3a3a3a" stroke-width="1.2"/>
<line x1="430.20" y1="675.08" x2="432.00" y2="675.08" stroke="#3a3a3a" stroke-width="1.2"/>
<line x1="430.20" y1="670.69" x2="432.00" y2="670.69" stroke="#3a3a3a" stroke-width="1.2"/>
<line x1="430.20" y1="640.86" x2="432.00" y2="640.86" stroke="#3a3a3a" stroke-width="1.2"/>
<line x1="430.20" y1="625.72" x2="432.00" y2="625.72" stroke="#3a3a3a" stroke-width="1.2"/>
<line x1="430.20" y1="614.97" x2="432.00" y2="614.97" stroke="#3a3a3a" stroke-width="1.2"/>
<line x1="430.20" y1="606.64" x2="432.00" y2="606.64" stroke="#3a3a3a" stroke-width="1.2"/>
<line x1="430.20" y1="599.83" x2="432.00" y2="599.83" stroke="#3a3a3a" stroke-width="1.2"/>
<line x1="430.20" y1="594.07" x2="432.00" y2="594.07" stroke="#3a3a3a" stroke-width="1.2"/>
<line x1="430.20" y1="589.08" x2="432.00" y2="589.08" stroke="#3a3a3a" stroke-width="1.2"/>
<line x1="430.20" y1="584.69" x2="432.00" y2="584.69" stroke="#3a3a3a" stroke-width="1.2"/>
<line x1="430.20" y1="554.86" x2="432.00" y2="554.86" stroke="#3a3a3a" stroke-width="1.2"/>
<line x1="431.40" y1="753.00" x2="431.40" y2="756.00" stroke="#3a3a3a" stroke-width="1.2"/>
<line x1="456.00" y1="753.00" x2="456.00" y2="756.00" stroke="#3a3a3a" stroke-width="1.2"/>
<line x1="480.60" y1="753.00" x2="480.60" y2="756.00" stroke="#3a3a3a" stroke-width="1.2"/>
<line x1="505.20" y1="753.00" x2="505.20" y2="756.00" stroke="#3a3a3a" stroke-width="1.2"/>
<line x1="529.80" y1="753.00" x2="529.80" y2="756.00" stroke="#3a3a3a" stroke-width="1.2"/>
<line x1="554.40" y1="753.00" x2="554.40" y2="756.00" stroke="#3a3a3a" stroke-width="1.2"/>
<line x1="579.00" y1="753.00" x2="579.00" y2="756.00" stroke="#3a3a3a" stroke-width="1.2"/>
<line x1="603.60" y1="753.00" x2="603.60" y2="756.00" stroke="#3a3a3a" stroke-width="1.2"/>
<line x1="628.20" y1="753.00" x2="628.20" y2="756.00" stroke="#3a3a3a" stroke-width="1.2"/>
<line x1="652.80" y1="753.00" x2="652.80" y2="756.00" stroke="#3a3a3a" stroke-width="1.2"/>
<line x1="677.40" y1="753.00" x2="677.40" y2="756.00" stroke="#3a3a3a" stroke-width="1.2"/>
<line x1="702.00" y1="753.00" x2="702.00" y2="756.00" stroke="#3a3a3a" stroke-width="1.2"/>
<line x1="443.70" y1="753.00" x2="443.70" y2="754.80" stroke="#3a3a3a" stroke-width="1.2"/>
<line x1="468.30" y1="753.00" x2="468.30" y2="754.80" stroke="#3a3a3a" stroke-width="1.2"/>
<line x1="492.90" y1="753.00" x2="492.90" y2="754.80" stroke="#3a3a3a" stroke-width="1.2"/>
<line x1="517.50" y1="753.00" x2="517.50" y2="754.80" stroke="#3a3a3a" stroke-width="1.2"/>
<line x1="542.10" y1="753.00" x2="542.10" y2="754.80" stroke="#3a3a3a" stroke-width="1.2"/>
<line x1="566.70" y1="753.00" x2="566.70" y2="754.80" stroke="#3a3a3a" stroke-width="1.2"/>
<line x1="591.30" y1="753.00" x2="591.30" y2="754.80" stroke="#3a3a3a" stroke-width="1.2"/>
<line x1="615.90" y1="753.00" x2="615.90" y2="754.80" stroke="#3a3a3a" stroke-width="1.2"/>
<line x1="640.50" y1="753.00" x2="640.50" y2="754.80" stroke="#3a3a3a" stroke-width="1.2"/>
<line x1="665.10" y1="753.00" x2="665.10" y2="754.80" stroke="#3a3a3a" stroke-width="1.2"/>
<line x1="689.70" y1="753.00" x2="689.70" y2="754.80" stroke="#3a3a3a" stroke-width="1.2"/>
<text x="426.5" y="756.35" font-size="10" text-anchor="end" font-weight="bold" fill="#1a1a1a" stroke="#1a1a1a" stroke-width="0.30" textLength="14.5" lengthAdjust="spacingAndGlyphs">100</text>
<text x="426.5" y="670.35" font-size="10" text-anchor="end" font-weight="bold" fill="#1a1a1a" stroke="#1a1a1a" stroke-width="0.30" textLength="19.4" lengthAdjust="spacingAndGlyphs">1000</text>
<text x="426.5" y="584.35" font-size="10" text-anchor="end" font-weight="bold" fill="#1a1a1a" stroke="#1a1a1a" stroke-width="0.30" textLength="24.2" lengthAdjust="spacingAndGlyphs">10000</text>
<text x="431.4" y="767.2" font-size="7.5" text-anchor="middle" font-weight="bold" fill="#1a1a1a" stroke="#1a1a1a" stroke-width="0.22" textLength="9.5" lengthAdjust="spacingAndGlyphs">25</text>
<text x="456.0" y="767.2" font-size="7.5" text-anchor="middle" font-weight="bold" fill="#1a1a1a" stroke="#1a1a1a" stroke-width="0.22" textLength="9.5" lengthAdjust="spacingAndGlyphs">30</text>
<text x="480.59999999999997" y="767.2" font-size="7.5" text-anchor="middle" font-weight="bold" fill="#1a1a1a" stroke="#1a1a1a" stroke-width="0.22" textLength="9.5" lengthAdjust="spacingAndGlyphs">35</text>
<text x="505.2" y="767.2" font-size="7.5" text-anchor="middle" font-weight="bold" fill="#1a1a1a" stroke="#1a1a1a" stroke-width="0.22" textLength="9.5" lengthAdjust="spacingAndGlyphs">40</text>
<text x="529.8" y="767.2" font-size="7.5" text-anchor="middle" font-weight="bold" fill="#1a1a1a" stroke="#1a1a1a" stroke-width="0.22" textLength="9.5" lengthAdjust="spacingAndGlyphs">45</text>
<text x="554.4" y="767.2" font-size="7.5" text-anchor="middle" font-weight="bold" fill="#1a1a1a" stroke="#1a1a1a" stroke-width="0.22" textLength="9.5" lengthAdjust="spacingAndGlyphs">50</text>
<text x="579.0" y="767.2" font-size="7.5" text-anchor="middle" font-weight="bold" fill="#1a1a1a" stroke="#1a1a1a" stroke-width="0.22" textLength="9.5" lengthAdjust="spacingAndGlyphs">55</text>
<text x="603.5999999999999" y="767.2" font-size="7.5" text-anchor="middle" font-weight="bold" fill="#1a1a1a" stroke="#1a1a1a" stroke-width="0.22" textLength="9.5" lengthAdjust="spacingAndGlyphs">60</text>
<text x="628.2" y="767.2" font-size="7.5" text-anchor="middle" font-weight="bold" fill="#1a1a1a" stroke="#1a1a1a" stroke-width="0.22" textLength="9.5" lengthAdjust="spacingAndGlyphs">65</text>
<text x="652.8" y="767.2" font-size="7.5" text-anchor="middle" font-weight="bold" fill="#1a1a1a" stroke="#1a1a1a" stroke-width="0.22" textLength="9.5" lengthAdjust="spacingAndGlyphs">70</text>
<text x="677.4" y="767.2" font-size="7.5" text-anchor="middle" font-weight="bold" fill="#1a1a1a" stroke="#1a1a1a" stroke-width="0.22" textLength="9.5" lengthAdjust="spacingAndGlyphs">75</text>
<text x="702.0" y="767.2" font-size="7.5" text-anchor="middle" font-weight="bold" fill="#1a1a1a" stroke="#1a1a1a" stroke-width="0.22" textLength="9.5" lengthAdjust="spacingAndGlyphs">80</text>
<text x="568.3" y="783.3" font-size="11" text-anchor="middle" font-weight="bold" fill="#1a1a1a" stroke="#1a1a1a" stroke-width="0.30" textLength="78" lengthAdjust="spacingAndGlyphs">Temperture(°C)</text>
<line x1="604.40" y1="724.40" x2="629.20" y2="724.40" stroke="#f08a2a" stroke-width="0.8"/>
<circle cx="616.5" cy="724.4" r="2.1" fill="#f08a24"/>
<line x1="604.40" y1="736.70" x2="629.20" y2="736.70" stroke="#7cb342" stroke-width="0.8"/>
<circle cx="616.5" cy="736.7" r="2.1" fill="#78b23e"/>
<text x="631.5" y="727.9" font-size="9" text-anchor="start" font-weight="bold" fill="#1a1a1a" stroke="#1a1a1a" stroke-width="0.27" textLength="51" lengthAdjust="spacingAndGlyphs">CLPRGGG’</text>
<text x="631.5" y="739.8" font-size="9" text-anchor="start" font-weight="bold" fill="#1a1a1a" stroke="#1a1a1a" stroke-width="0.27" textLength="53" lengthAdjust="spacingAndGlyphs">CLPRGGG”</text>
<text x="862.8" y="746" font-size="9" text-anchor="middle" font-weight="bold" fill="#1a1a1a" stroke="#1a1a1a" stroke-width="0.27" textLength="7.5" lengthAdjust="spacingAndGlyphs">S</text>
<text x="904.4" y="746" font-size="9" text-anchor="middle" font-weight="bold" fill="#1a1a1a" stroke="#1a1a1a" stroke-width="0.27" textLength="7.5" lengthAdjust="spacingAndGlyphs">E</text>
<text x="941.1" y="746" font-size="9" text-anchor="middle" font-weight="bold" fill="#1a1a1a" stroke="#1a1a1a" stroke-width="0.27" textLength="7.5" lengthAdjust="spacingAndGlyphs">N</text>
<text x="977.2" y="746" font-size="9" text-anchor="middle" font-weight="bold" fill="#1a1a1a" stroke="#1a1a1a" stroke-width="0.27" textLength="7.5" lengthAdjust="spacingAndGlyphs">S</text>
<text x="1016.7" y="746" font-size="9" text-anchor="middle" font-weight="bold" fill="#1a1a1a" stroke="#1a1a1a" stroke-width="0.27" textLength="7.5" lengthAdjust="spacingAndGlyphs">O</text>
<text x="1054.2" y="746" font-size="9" text-anchor="middle" font-weight="bold" fill="#1a1a1a" stroke="#1a1a1a" stroke-width="0.27" textLength="7.5" lengthAdjust="spacingAndGlyphs">R</text>
<polyline points="800.80,657.50 803.86,661.41 807.68,661.74 812.57,657.50 817.61,659.46 823.72,661.41 828.30,664.02 831.36,664.02 834.42,648.70 836.71,650.98 837.93,673.80 839.15,751.06 840.83,722.70 844.50,649.68 846.64,652.61 848.93,677.06 851.68,698.25 857.34,703.14 862.84,706.40 868.95,693.36 872.62,698.25 875.67,699.88 877.81,695.64 879.49,703.14 882.85,734.44 884.99,644.13 886.67,673.80 888.35,676.08 890.19,677.06 892.02,606.32 893.70,667.28 897.83,668.91 902.56,671.19 907.45,671.19 910.82,660.76 914.48,646.09 916.93,648.37 919.22,728.57 923.80,616.10 926.10,654.89 930.68,667.28 934.96,673.80 942.90,672.17 949.93,664.02 952.99,659.46 955.13,664.02 958.03,750.41 962.00,645.44 963.99,647.72 967.50,703.79 970.41,706.40 980.03,708.03 985.69,704.77 991.04,696.95 993.79,703.14 996.69,692.71 1001.73,631.75 1007.84,685.86 1013.19,690.10 1020.83,686.84 1025.87,676.08 1028.47,724.66 1031.38,701.18 1035.65,748.45 1040.54,635.33 1043.75,673.47 1049.86,673.80 1057.50,675.43 1062.09,673.80 1070.34,680.32 1073.55,679.34" fill="none" stroke="#93bc50" stroke-width="1.1" stroke-linejoin="round"/>
<rect x="839.90" y="597.00" width="42.50" height="157.50" fill="#efd7c3" style="mix-blend-mode:multiply"/>
<rect x="882.40" y="597.00" width="37.90" height="157.50" fill="#f2f6e1" style="mix-blend-mode:multiply"/>
<rect x="920.30" y="597.00" width="38.20" height="157.50" fill="#fde6cf" style="mix-blend-mode:multiply"/>
<rect x="958.50" y="597.00" width="36.20" height="157.50" fill="#f0dccb" style="mix-blend-mode:multiply"/>
<rect x="994.70" y="597.00" width="40.20" height="157.50" fill="#d8e6d1" style="mix-blend-mode:multiply"/>
<rect x="1034.90" y="597.00" width="37.10" height="157.50" fill="#fdf4dc" style="mix-blend-mode:multiply"/>
<rect x="800.5" y="559.5" width="274.5" height="195.0" fill="none" stroke="#3a3a3a" stroke-width="1.5"/>
<line x1="797.00" y1="755.30" x2="800.50" y2="755.30" stroke="#3a3a3a" stroke-width="1.2"/>
<line x1="797.00" y1="722.70" x2="800.50" y2="722.70" stroke="#3a3a3a" stroke-width="1.2"/>
<line x1="797.00" y1="690.10" x2="800.50" y2="690.10" stroke="#3a3a3a" stroke-width="1.2"/>
<line x1="797.00" y1="657.50" x2="800.50" y2="657.50" stroke="#3a3a3a" stroke-width="1.2"/>
<line x1="797.00" y1="624.90" x2="800.50" y2="624.90" stroke="#3a3a3a" stroke-width="1.2"/>
<line x1="797.00" y1="592.30" x2="800.50" y2="592.30" stroke="#3a3a3a" stroke-width="1.2"/>
<line x1="797.00" y1="559.70" x2="800.50" y2="559.70" stroke="#3a3a3a" stroke-width="1.2"/>
<line x1="798.50" y1="739.00" x2="800.50" y2="739.00" stroke="#3a3a3a" stroke-width="1.2"/>
<line x1="798.50" y1="706.40" x2="800.50" y2="706.40" stroke="#3a3a3a" stroke-width="1.2"/>
<line x1="798.50" y1="673.80" x2="800.50" y2="673.80" stroke="#3a3a3a" stroke-width="1.2"/>
<line x1="798.50" y1="641.20" x2="800.50" y2="641.20" stroke="#3a3a3a" stroke-width="1.2"/>
<line x1="798.50" y1="608.60" x2="800.50" y2="608.60" stroke="#3a3a3a" stroke-width="1.2"/>
<line x1="798.50" y1="576.00" x2="800.50" y2="576.00" stroke="#3a3a3a" stroke-width="1.2"/>
<line x1="800.80" y1="754.50" x2="800.80" y2="758.00" stroke="#3a3a3a" stroke-width="1.2"/>
<line x1="877.20" y1="754.50" x2="877.20" y2="758.00" stroke="#3a3a3a" stroke-width="1.2"/>
<line x1="953.60" y1="754.50" x2="953.60" y2="758.00" stroke="#3a3a3a" stroke-width="1.2"/>
<line x1="1030.00" y1="754.50" x2="1030.00" y2="758.00" stroke="#3a3a3a" stroke-width="1.2"/>
<line x1="839.00" y1="754.50" x2="839.00" y2="756.50" stroke="#3a3a3a" stroke-width="1.2"/>
<line x1="915.40" y1="754.50" x2="915.40" y2="756.50" stroke="#3a3a3a" stroke-width="1.2"/>
<line x1="991.80" y1="754.50" x2="991.80" y2="756.50" stroke="#3a3a3a" stroke-width="1.2"/>
<line x1="1068.20" y1="754.50" x2="1068.20" y2="756.50" stroke="#3a3a3a" stroke-width="1.2"/>
<text x="794" y="757.6999999999999" font-size="7" text-anchor="end" font-weight="bold" fill="#1a1a1a" stroke="#1a1a1a" stroke-width="0.21" textLength="17.2" lengthAdjust="spacingAndGlyphs">-0.3</text>
<text x="794" y="725.1" font-size="7" text-anchor="end" font-weight="bold" fill="#1a1a1a" stroke="#1a1a1a" stroke-width="0.21" textLength="17.2" lengthAdjust="spacingAndGlyphs">-0.2</text>
<text x="794" y="692.5" font-size="7" text-anchor="end" font-weight="bold" fill="#1a1a1a" stroke="#1a1a1a" stroke-width="0.21" textLength="17.2" lengthAdjust="spacingAndGlyphs">-0.1</text>
<text x="794" y="659.9" font-size="7" text-anchor="end" font-weight="bold" fill="#1a1a1a" stroke="#1a1a1a" stroke-width="0.21" textLength="12.9" lengthAdjust="spacingAndGlyphs">0.0</text>
<text x="794" y="627.3" font-size="7" text-anchor="end" font-weight="bold" fill="#1a1a1a" stroke="#1a1a1a" stroke-width="0.21" textLength="12.9" lengthAdjust="spacingAndGlyphs">0.1</text>
<text x="794" y="594.6999999999999" font-size="7" text-anchor="end" font-weight="bold" fill="#1a1a1a" stroke="#1a1a1a" stroke-width="0.21" textLength="12.9" lengthAdjust="spacingAndGlyphs">0.2</text>
<text x="794" y="562.1" font-size="7" text-anchor="end" font-weight="bold" fill="#1a1a1a" stroke="#1a1a1a" stroke-width="0.21" textLength="12.9" lengthAdjust="spacingAndGlyphs">0.3</text>
<text x="800.8" y="768" font-size="7.5" text-anchor="middle" font-weight="bold" fill="#1a1a1a" stroke="#1a1a1a" stroke-width="0.22" textLength="4.9" lengthAdjust="spacingAndGlyphs">0</text>
<text x="877.1999999999999" y="768" font-size="7.5" text-anchor="middle" font-weight="bold" fill="#1a1a1a" stroke="#1a1a1a" stroke-width="0.22" textLength="4.9" lengthAdjust="spacingAndGlyphs">5</text>
<text x="953.5999999999999" y="768" font-size="7.5" text-anchor="middle" font-weight="bold" fill="#1a1a1a" stroke="#1a1a1a" stroke-width="0.22" textLength="9.8" lengthAdjust="spacingAndGlyphs">10</text>
<text x="1030.0" y="768" font-size="7.5" text-anchor="middle" font-weight="bold" fill="#1a1a1a" stroke="#1a1a1a" stroke-width="0.22" textLength="9.8" lengthAdjust="spacingAndGlyphs">15</text>
<text x="937.3" y="783" font-size="11" text-anchor="middle" font-weight="bold" fill="#1a1a1a" stroke="#1a1a1a" stroke-width="0.30" textLength="36.5" lengthAdjust="spacingAndGlyphs">Time(s)</text>
<text x="762.5" y="652" font-size="10" text-anchor="middle" font-weight="bold" fill="#1a1a1a" stroke="#1a1a1a" stroke-width="0.3" textLength="59" lengthAdjust="spacingAndGlyphs" transform="rotate(-90 762.5 652)">(R-R<tspan font-size="7.0" dy="2.2">0</tspan><tspan dy="-2.2">)/R</tspan><tspan font-size="7.0" dy="2.2">0</tspan><tspan dy="-2.2">(%)</tspan></text>
<text x="958.7" y="579.7" font-size="10" text-anchor="start" font-weight="bold" fill="#1a1a1a" stroke="#1a1a1a" stroke-width="0.30" textLength="106" lengthAdjust="spacingAndGlyphs">Handwriting “SENSOR”</text>
</g>
</svg></body></html>
